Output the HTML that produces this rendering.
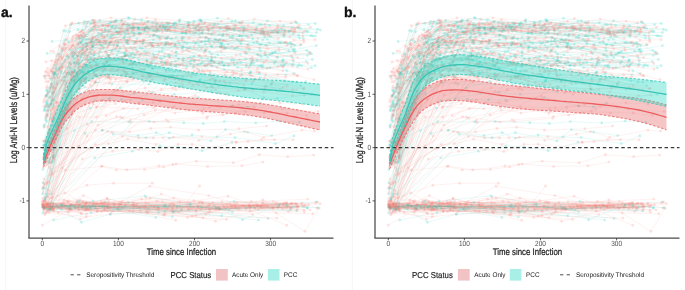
<!DOCTYPE html>
<html><head><meta charset="utf-8"><style>
html,body{margin:0;padding:0;background:#fff;width:685px;height:290px;overflow:hidden}
svg{display:block;font-family:"Liberation Sans",sans-serif;text-rendering:geometricPrecision}
.lp{fill:none;stroke:#F8766D;stroke-width:.6;stroke-opacity:.17}
.lc{fill:none;stroke:#10C8BA;stroke-width:.6;stroke-opacity:.17}
.dp{fill:none;stroke:#F8766D;stroke-width:2.9;stroke-linecap:round;stroke-opacity:.2}
.dc{fill:none;stroke:#10C8BA;stroke-width:2.9;stroke-linecap:round;stroke-opacity:.2}

.fp{fill:#E8686C;fill-opacity:.38;stroke:none}
.fc{fill:#2FD9C6;fill-opacity:.4;stroke:none}
.bp{fill:none;stroke:#E86A6A;stroke-width:1.1;stroke-dasharray:2.6 1.6;stroke-opacity:.8}
.bc{fill:none;stroke:#3CC8B8;stroke-width:1.1;stroke-dasharray:2.6 1.6;stroke-opacity:.8}
.mp{fill:none;stroke:#EC5E5E;stroke-width:1.3}
.mc{fill:none;stroke:#38C4B4;stroke-width:1.3}
.ax{stroke:#4a4a4a;stroke-width:1.25}
.tk{stroke:#333;stroke-width:.8}
.th{stroke:#3a3a3a;stroke-width:1.2;stroke-dasharray:3.5 2.68;stroke-dashoffset:.9}
.lg{stroke:#333;stroke-width:.9;stroke-dasharray:3.2 3.4}
.tl{font-size:6.5px;fill:#4d4d4d}
.at{font-size:7.85px;fill:#1a1a1a;stroke:#1a1a1a;stroke-width:.18px}
.pl{font-size:14px;font-weight:bold;fill:#111;stroke:#111;stroke-width:.35px}
.lt{font-size:6.4px;fill:#1a1a1a}
.ls{font-size:7.8px;fill:#1a1a1a;stroke:#1a1a1a;stroke-width:.15px}
</style></head><body>
<svg width="685" height="290" viewBox="0 0 685 290">
<line x1="5.7" y1="0" x2="5.7" y2="290" stroke="#f0f0f0" stroke-width="0.7"/><line x1="352.3" y1="0" x2="352.3" y2="290" stroke="#f0f0f0" stroke-width="0.7"/>
<defs><filter id="bl" x="-0.05" y="-0.05" width="1.1" height="1.1"><feGaussianBlur stdDeviation="0.75"/></filter><g id="sp">
<path class="lp" d="M52.7,157 60.3,121.4 73.8,80.3 95.2,53.1"/><path class="dp" d="M52.7,157h0M60.3,121.4h0M73.8,80.3h0M95.2,53.1h0"/>
<path class="lp" d="M50.9,70.8 95.8,75.5 132.7,79.3 161.5,76.2 182.3,81.1 198.5,84.9 215.1,80.9 246,80.8 271.4,84.8"/><path class="dp" d="M50.9,70.8h0M95.8,75.5h0M132.7,79.3h0M161.5,76.2h0M182.3,81.1h0M198.5,84.9h0M215.1,80.9h0M246,80.8h0M271.4,84.8h0"/>
<path class="lp" d="M52.2,197.5 78.9,146.5 102.2,130.3 130.4,120.3 144,114.7 180,109.1 202.9,113.2 220.7,107.4 238.5,104.6 279.9,102.7 302.3,104.1"/><path class="dp" d="M52.2,197.5h0M78.9,146.5h0M102.2,130.3h0M130.4,120.3h0M144,114.7h0M180,109.1h0M202.9,113.2h0M220.7,107.4h0M238.5,104.6h0M279.9,102.7h0M302.3,104.1h0"/>
<path class="lc" d="M44.7,146.4 81.5,72.2 104.4,68.9 135.9,65.1 169.7,70.4"/><path class="dc" d="M44.7,146.4h0M81.5,72.2h0M104.4,68.9h0M135.9,65.1h0M169.7,70.4h0"/>
<path class="lc" d="M52.1,41.5 65.2,40.1 80.2,42.6 91.2,41.9 110.4,42.5 123.7,38.2"/><path class="dc" d="M52.1,41.5h0M65.2,40.1h0M80.2,42.6h0M91.2,41.9h0M110.4,42.5h0M123.7,38.2h0"/>
<path class="lc" d="M53.7,220.1 91,212.7 118.4,209.2 148.1,208.8 164.8,211"/><path class="dc" d="M53.7,220.1h0M91,212.7h0M118.4,209.2h0M148.1,208.8h0M164.8,211h0"/>
<path class="lp" d="M47.6,126.7 65.5,66.8 75,54.5 89.3,53 109.4,44.3"/><path class="dp" d="M47.6,126.7h0M65.5,66.8h0M75,54.5h0M89.3,53h0M109.4,44.3h0"/>
<path class="lc" d="M45.3,162.7 146.7,60.1 161.3,61.9 186.9,66.2 224.6,65.3 251.5,61.6 282.1,61.8 301.5,65.8"/><path class="dc" d="M45.3,162.7h0M146.7,60.1h0M161.3,61.9h0M186.9,66.2h0M224.6,65.3h0M251.5,61.6h0M282.1,61.8h0M301.5,65.8h0"/>
<path class="lc" d="M49.5,97.7 85.2,34.9 119.2,28.4 134.2,33.1 176,37.2 201.9,32.4 219.4,34.1 242.2,36.6 264.7,37.3 303.4,38.2"/><path class="dc" d="M49.5,97.7h0M85.2,34.9h0M119.2,28.4h0M134.2,33.1h0M176,37.2h0M201.9,32.4h0M219.4,34.1h0M242.2,36.6h0M264.7,37.3h0M303.4,38.2h0"/>
<path class="lp" d="M42.6,198.7 93.2,104.3 124.9,101.1 153.2,102.9 174.4,106.9 209.3,107.6 232.6,105.9 254.2,106.9 282.3,109.1 318.2,111.5"/><path class="dp" d="M42.6,198.7h0M93.2,104.3h0M124.9,101.1h0M153.2,102.9h0M174.4,106.9h0M209.3,107.6h0M232.6,105.9h0M254.2,106.9h0M282.3,109.1h0M318.2,111.5h0"/>
<path class="lp" d="M52.3,130 57.6,105.5"/><path class="dp" d="M52.3,130h0M57.6,105.5h0"/>
<path class="lc" d="M42.6,206.2 79.7,38"/><path class="dc" d="M42.6,206.2h0M79.7,38h0"/>
<path class="lp" d="M46.6,208.8 98,125.1 116.6,116.7 130.9,122.4 168.3,121.5 206.8,118.3"/><path class="dp" d="M46.6,208.8h0M98,125.1h0M116.6,116.7h0M130.9,122.4h0M168.3,121.5h0M206.8,118.3h0"/>
<path class="lc" d="M43.5,145.1 91.6,121.7 128.8,121.9 149.2,121.4 183.8,122.7 203.3,123.5 224.3,121.6 255.7,122.9 279,121.1 299.5,122.2"/><path class="dc" d="M43.5,145.1h0M91.6,121.7h0M128.8,121.9h0M149.2,121.4h0M183.8,122.7h0M203.3,123.5h0M224.3,121.6h0M255.7,122.9h0M279,121.1h0M299.5,122.2h0"/>
<path class="lp" d="M46.1,111.5 86.1,46.7 113,37.8 149.8,35.9"/><path class="dp" d="M46.1,111.5h0M86.1,46.7h0M113,37.8h0M149.8,35.9h0"/>
<path class="lc" d="M52.8,74.4 73.7,52.2 86.7,45.4 117.3,45.8 142.4,48.6 183.3,47.2 217.9,54.8 240.5,54.6"/><path class="dc" d="M52.8,74.4h0M73.7,52.2h0M86.7,45.4h0M117.3,45.8h0M142.4,48.6h0M183.3,47.2h0M217.9,54.8h0M240.5,54.6h0"/>
<path class="lc" d="M46.4,103.2 88.3,70.8 126,60.6 148.5,65.2 174.6,71.4 202.3,62.5 224.2,69.6 250.4,72.8 284.9,80.8"/><path class="dc" d="M46.4,103.2h0M88.3,70.8h0M126,60.6h0M148.5,65.2h0M174.6,71.4h0M202.3,62.5h0M224.2,69.6h0M250.4,72.8h0M284.9,80.8h0"/>
<path class="lp" d="M43,205.8 75.2,207.3 91,206.7 155.1,206.2 209.5,209 279.1,205.5 296.9,204.6"/><path class="dp" d="M43,205.8h0M75.2,207.3h0M91,206.7h0M155.1,206.2h0M209.5,209h0M279.1,205.5h0M296.9,204.6h0"/>
<path class="lp" d="M43,188 94.6,82.5 127.1,81.3 146.5,78.4 179.2,79.8 202.2,70.5 241.7,70.3"/><path class="dp" d="M43,188h0M94.6,82.5h0M127.1,81.3h0M146.5,78.4h0M179.2,79.8h0M202.2,70.5h0M241.7,70.3h0"/>
<path class="lp" d="M47.7,140.6 53.5,108.6 72.6,52 93.1,38.4 101.5,30"/><path class="dp" d="M47.7,140.6h0M53.5,108.6h0M72.6,52h0M93.1,38.4h0M101.5,30h0"/>
<path class="lc" d="M45.4,105.7 82.4,30.1"/><path class="dc" d="M45.4,105.7h0M82.4,30.1h0"/>
<path class="lp" d="M48.5,132.3 62.9,103 85.1,79.6 102.4,75.4 141,69.3 157.8,73.1 198.7,71.2 236.3,73.1 259.4,72.5"/><path class="dp" d="M48.5,132.3h0M62.9,103h0M85.1,79.6h0M102.4,75.4h0M141,69.3h0M157.8,73.1h0M198.7,71.2h0M236.3,73.1h0M259.4,72.5h0"/>
<path class="lp" d="M51.6,70.7 83.2,32.8 95.2,25.3 107.8,25.4 133.4,27.9"/><path class="dp" d="M51.6,70.7h0M83.2,32.8h0M95.2,25.3h0M107.8,25.4h0M133.4,27.9h0"/>
<path class="lp" d="M46.8,204 80.8,205.2 114,204.5 153.5,206.7 215.5,221.2 258.4,209.5 308.4,204.6"/><path class="dp" d="M46.8,204h0M80.8,205.2h0M114,204.5h0M153.5,206.7h0M215.5,221.2h0M258.4,209.5h0M308.4,204.6h0"/>
<path class="lc" d="M48.9,130.7 88,60.3 106.9,62.8 125,55.8 146.9,52.2 182.2,48.7"/><path class="dc" d="M48.9,130.7h0M88,60.3h0M106.9,62.8h0M125,55.8h0M146.9,52.2h0M182.2,48.7h0"/>
<path class="lc" d="M52.8,157 69.3,67.2 93.6,42.2 106.1,42.4 143.2,42.2 184.1,42.1 205.5,44.3 240.5,42.8 259.5,48.2 291.4,46.7"/><path class="dc" d="M52.8,157h0M69.3,67.2h0M93.6,42.2h0M106.1,42.4h0M143.2,42.2h0M184.1,42.1h0M205.5,44.3h0M240.5,42.8h0M259.5,48.2h0M291.4,46.7h0"/>
<path class="lp" d="M50.2,207.2 62.1,203.7 78.8,204.6 107.3,198.9 137.2,205.1 173.9,204.2 223.5,206 286.6,207.8 320.2,203.8"/><path class="dp" d="M50.2,207.2h0M62.1,203.7h0M78.8,204.6h0M107.3,198.9h0M137.2,205.1h0M173.9,204.2h0M223.5,206h0M286.6,207.8h0M320.2,203.8h0"/>
<path class="lp" d="M52.6,86.8 62.6,67.2 84.4,51.7 99.9,43.3 111.7,39.3"/><path class="dp" d="M52.6,86.8h0M62.6,67.2h0M84.4,51.7h0M99.9,43.3h0M111.7,39.3h0"/>
<path class="lp" d="M43,206.8 78.5,210.4 92.4,205.1 158.2,207.3 192.1,216 249,205.7 290.8,208.1"/><path class="dp" d="M43,206.8h0M78.5,210.4h0M92.4,205.1h0M158.2,207.3h0M192.1,216h0M249,205.7h0M290.8,208.1h0"/>
<path class="lc" d="M44.7,76.6 71.9,71.9 103,70.9 116.7,70.6 148.8,73.5 171.7,76.7 199.4,81.5 229.8,82.9 266.4,86.1 305.9,81.7"/><path class="dc" d="M44.7,76.6h0M71.9,71.9h0M103,70.9h0M116.7,70.6h0M148.8,73.5h0M171.7,76.7h0M199.4,81.5h0M229.8,82.9h0M266.4,86.1h0M305.9,81.7h0"/>
<path class="lp" d="M43.6,207.3 80.2,83.1 95.6,74.9 123.1,62.4 150.9,63.4 177.5,64.3 212.5,61.3"/><path class="dp" d="M43.6,207.3h0M80.2,83.1h0M95.6,74.9h0M123.1,62.4h0M150.9,63.4h0M177.5,64.3h0M212.5,61.3h0"/>
<path class="lp" d="M45.4,160 74.2,77.1 94,59.2 124.8,56.4 149.2,52.7"/><path class="dp" d="M45.4,160h0M74.2,77.1h0M94,59.2h0M124.8,56.4h0M149.2,52.7h0"/>
<path class="lp" d="M50.6,97 65.5,71.6 85,52.4 100.5,49 117.6,46"/><path class="dp" d="M50.6,97h0M65.5,71.6h0M85,52.4h0M100.5,49h0M117.6,46h0"/>
<path class="lc" d="M50.1,209.5 85.1,133.3 102.4,130.3 138.1,135.5 156.2,132.7 169.5,138.1 192.1,135 217.2,137 235,137.6 275.5,143.6 294,135.7"/><path class="dc" d="M50.1,209.5h0M85.1,133.3h0M102.4,130.3h0M138.1,135.5h0M156.2,132.7h0M169.5,138.1h0M192.1,135h0M217.2,137h0M235,137.6h0M275.5,143.6h0M294,135.7h0"/>
<path class="lc" d="M54.4,73.5 94.1,26.6 129.2,18.2 152.6,22.4 183.6,27.1 200.6,21.3 235.1,25.8 269.6,25.8"/><path class="dc" d="M54.4,73.5h0M94.1,26.6h0M129.2,18.2h0M152.6,22.4h0M183.6,27.1h0M200.6,21.3h0M235.1,25.8h0M269.6,25.8h0"/>
<path class="lp" d="M52.5,152.8 70.9,91.3 85.1,58.8 113.4,44.3 139.1,34.5 170.5,31 189.2,38 222.9,34.6 264.6,35.2 278.4,38.4"/><path class="dp" d="M52.5,152.8h0M70.9,91.3h0M85.1,58.8h0M113.4,44.3h0M139.1,34.5h0M170.5,31h0M189.2,38h0M222.9,34.6h0M264.6,35.2h0M278.4,38.4h0"/>
<path class="lc" d="M45.3,108 69.4,63.4 87.4,44.2 117.6,45.2 151.7,43.1 167.2,37.7 187.5,48.1 223.9,46.1 265.5,55 295.5,51.4"/><path class="dc" d="M45.3,108h0M69.4,63.4h0M87.4,44.2h0M117.6,45.2h0M151.7,43.1h0M167.2,37.7h0M187.5,48.1h0M223.9,46.1h0M265.5,55h0M295.5,51.4h0"/>
<path class="lp" d="M47.6,110.4 72.1,38.9 98.4,26.4 139,24.3 154.7,30.6 195.5,28.3 227.1,26.3 262.8,28.4 293.5,32.2"/><path class="dp" d="M47.6,110.4h0M72.1,38.9h0M98.4,26.4h0M139,24.3h0M154.7,30.6h0M195.5,28.3h0M227.1,26.3h0M262.8,28.4h0M293.5,32.2h0"/>
<path class="lp" d="M44.9,203"/><path class="dp" d="M44.9,203h0"/>
<path class="lp" d="M53.3,73.8 70.7,73.8"/><path class="dp" d="M53.3,73.8h0M70.7,73.8h0"/>
<path class="lc" d="M50.8,104 87.6,39.4 116.2,26.4 138.1,27.8 157.3,29.9"/><path class="dc" d="M50.8,104h0M87.6,39.4h0M116.2,26.4h0M138.1,27.8h0M157.3,29.9h0"/>
<path class="lc" d="M49.8,206.5 61.8,204.9 81.7,207.4 105.9,202.6 132.6,204.8 189.8,203.5 257.8,205.8 316.5,201.9"/><path class="dc" d="M49.8,206.5h0M61.8,204.9h0M81.7,207.4h0M105.9,202.6h0M132.6,204.8h0M189.8,203.5h0M257.8,205.8h0M316.5,201.9h0"/>
<path class="lp" d="M48.8,76.1 72.1,22.9 102.6,25.2 126.8,29.3 148.5,21.4 168.3,29.5 186.3,32.2 210.8,24.5 227.1,28.9 263.8,31.6 304.8,30.9"/><path class="dp" d="M48.8,76.1h0M72.1,22.9h0M102.6,25.2h0M126.8,29.3h0M148.5,21.4h0M168.3,29.5h0M186.3,32.2h0M210.8,24.5h0M227.1,28.9h0M263.8,31.6h0M304.8,30.9h0"/>
<path class="lp" d="M48.6,190.4"/><path class="dp" d="M48.6,190.4h0"/>
<path class="lp" d="M53.2,209.4 101.5,166.4 116.2,169.9 144.5,169.4 163.7,167 176.1,164 207.6,166.5 241.9,165.8 262.9,162.1"/><path class="dp" d="M53.2,209.4h0M101.5,166.4h0M116.2,169.9h0M144.5,169.4h0M163.7,167h0M176.1,164h0M207.6,166.5h0M241.9,165.8h0M262.9,162.1h0"/>
<path class="lc" d="M46.4,121.4 56.5,74.6 76.2,38.1 96.9,30 108.5,31.2 134.3,35.1 173,25.4 186.2,33.7 226.4,31.2 252.7,38.7 270.5,36.4 311,35.7"/><path class="dc" d="M46.4,121.4h0M56.5,74.6h0M76.2,38.1h0M96.9,30h0M108.5,31.2h0M134.3,35.1h0M173,25.4h0M186.2,33.7h0M226.4,31.2h0M252.7,38.7h0M270.5,36.4h0M311,35.7h0"/>
<path class="lc" d="M46,115 72.6,56.4 104.9,28.8 117.5,31.2 138.5,28.4 168.2,29 181.7,32.9 200.3,29.4 225.8,26.5 264.1,33.7 289.3,30.9"/><path class="dc" d="M46,115h0M72.6,56.4h0M104.9,28.8h0M117.5,31.2h0M138.5,28.4h0M168.2,29h0M181.7,32.9h0M200.3,29.4h0M225.8,26.5h0M264.1,33.7h0M289.3,30.9h0"/>
<path class="lp" d="M44.3,127.5 77.8,43.7"/><path class="dp" d="M44.3,127.5h0M77.8,43.7h0"/>
<path class="lp" d="M43.2,192.4 79.7,67.1 98.8,53.8 116,48.1 130.5,47.3 161.8,62.1 187.2,50 199,55.5 232.2,58.4 251.4,62.5 286.6,62.5"/><path class="dp" d="M43.2,192.4h0M79.7,67.1h0M98.8,53.8h0M116,48.1h0M130.5,47.3h0M161.8,62.1h0M187.2,50h0M199,55.5h0M232.2,58.4h0M251.4,62.5h0M286.6,62.5h0"/>
<path class="lc" d="M48,92.2 70.1,50 92.2,45.8 126.6,42.4 153.4,39.9 175.1,44.6 211.6,46.7 234.7,48.6 271.8,53.4 307,50.4"/><path class="dc" d="M48,92.2h0M70.1,50h0M92.2,45.8h0M126.6,42.4h0M153.4,39.9h0M175.1,44.6h0M211.6,46.7h0M234.7,48.6h0M271.8,53.4h0M307,50.4h0"/>
<path class="lp" d="M44,145 65.3,90.9 95.4,65.6 123.6,64 150.6,62.1"/><path class="dp" d="M44,145h0M65.3,90.9h0M95.4,65.6h0M123.6,64h0M150.6,62.1h0"/>
<path class="lp" d="M47.4,116.1 57.1,83.7 75.8,62.9"/><path class="dp" d="M47.4,116.1h0M57.1,83.7h0M75.8,62.9h0"/>
<path class="lp" d="M49,134.2 57,102.6 80.6,81.6 106.4,77.3 131.2,76.7 171.8,76.5 189.4,82.4 225.6,83.5 258.9,79.2 297.7,75.7"/><path class="dp" d="M49,134.2h0M57,102.6h0M80.6,81.6h0M106.4,77.3h0M131.2,76.7h0M171.8,76.5h0M189.4,82.4h0M225.6,83.5h0M258.9,79.2h0M297.7,75.7h0"/>
<path class="lc" d="M47.7,136.2 88.5,71.3 123.1,58.3 149.5,65.2 190.2,63.8 222.1,62.8 262.5,67.3 299.1,64.7 315.2,65.7"/><path class="dc" d="M47.7,136.2h0M88.5,71.3h0M123.1,58.3h0M149.5,65.2h0M190.2,63.8h0M222.1,62.8h0M262.5,67.3h0M299.1,64.7h0M315.2,65.7h0"/>
<path class="lp" d="M46.2,203.5 77.9,207.1 103.3,203.5 133.1,202.5 198.9,202.9 268.1,205.9 297.6,206.2"/><path class="dp" d="M46.2,203.5h0M77.9,207.1h0M103.3,203.5h0M133.1,202.5h0M198.9,202.9h0M268.1,205.9h0M297.6,206.2h0"/>
<path class="lp" d="M43.9,206.7 79.1,208.5 108.4,203.8 181.6,210.1 219.5,208.8 261.2,206.3 303.9,210.2"/><path class="dp" d="M43.9,206.7h0M79.1,208.5h0M108.4,203.8h0M181.6,210.1h0M219.5,208.8h0M261.2,206.3h0M303.9,210.2h0"/>
<path class="lp" d="M53.1,210.1 65.4,170 95.5,130.1 122.7,118.1 155.2,110.3 186.5,109.4 222.7,115.1 250.3,109"/><path class="dp" d="M53.1,210.1h0M65.4,170h0M95.5,130.1h0M122.7,118.1h0M155.2,110.3h0M186.5,109.4h0M222.7,115.1h0M250.3,109h0"/>
<path class="lp" d="M54.4,131.4 70.7,91.4 103.5,64.1"/><path class="dp" d="M54.4,131.4h0M70.7,91.4h0M103.5,64.1h0"/>
<path class="lc" d="M51.6,84.3 95.8,62.5 127.6,55.6 146.9,61.1 175.9,66.6 200.7,63.9 219.2,63.2 240.8,62.2 259.2,65.9 287,71"/><path class="dc" d="M51.6,84.3h0M95.8,62.5h0M127.6,55.6h0M146.9,61.1h0M175.9,66.6h0M200.7,63.9h0M219.2,63.2h0M240.8,62.2h0M259.2,65.9h0M287,71h0"/>
<path class="lp" d="M48.2,212.9 86.1,216.9 110.2,214.1 146.8,212 179,212 199.6,186"/><path class="dp" d="M48.2,212.9h0M86.1,216.9h0M110.2,214.1h0M146.8,212h0M179,212h0M199.6,186h0"/>
<path class="lp" d="M53.5,108.9 66.6,73.8 82.4,49.9 115,41.2 143.2,40.3 160.1,39"/><path class="dp" d="M53.5,108.9h0M66.6,73.8h0M82.4,49.9h0M115,41.2h0M143.2,40.3h0M160.1,39h0"/>
<path class="lc" d="M46.9,196.8 113.4,134.2 146,137.7 169.3,132.7 210.9,140.9 225.5,129.6 247.6,132.1 271.8,135.6"/><path class="dc" d="M46.9,196.8h0M113.4,134.2h0M146,137.7h0M169.3,132.7h0M210.9,140.9h0M225.5,129.6h0M247.6,132.1h0M271.8,135.6h0"/>
<path class="lp" d="M50.3,118.7 65,50 77.5,35.5 93.2,30.7 133.4,28.4 169.6,22.8 198.4,25.4 228.5,34.6 262.6,31.9 284.8,32.7"/><path class="dp" d="M50.3,118.7h0M65,50h0M77.5,35.5h0M93.2,30.7h0M133.4,28.4h0M169.6,22.8h0M198.4,25.4h0M228.5,34.6h0M262.6,31.9h0M284.8,32.7h0"/>
<path class="lp" d="M46.3,203.9 63.6,203.9 100.9,203.7 146.1,197.5 202.2,202.5 262.4,203.2 290.8,204.1"/><path class="dp" d="M46.3,203.9h0M63.6,203.9h0M100.9,203.7h0M146.1,197.5h0M202.2,202.5h0M262.4,203.2h0M290.8,204.1h0"/>
<path class="lc" d="M45.9,117.2 74.4,58.6 103.9,64.2 116.2,60.6 138.7,59.9 164.5,56.9 193.9,60 209.6,62.6 237.6,67.4 270.1,67.7"/><path class="dc" d="M45.9,117.2h0M74.4,58.6h0M103.9,64.2h0M116.2,60.6h0M138.7,59.9h0M164.5,56.9h0M193.9,60h0M209.6,62.6h0M237.6,67.4h0M270.1,67.7h0"/>
<path class="lp" d="M53.3,158.1 90.3,84.9 109.6,78.1 142.3,75.7 165.2,79.6 186.5,73.1 212.7,78.5 240.3,76 272.9,82 303.7,88.6"/><path class="dp" d="M53.3,158.1h0M90.3,84.9h0M109.6,78.1h0M142.3,75.7h0M165.2,79.6h0M186.5,73.1h0M212.7,78.5h0M240.3,76h0M272.9,82h0M303.7,88.6h0"/>
<path class="lp" d="M49.1,209.3 71.4,209.7 101.5,211.8 149.2,210.7 188.5,209.9 203,207.8"/><path class="dp" d="M49.1,209.3h0M71.4,209.7h0M101.5,211.8h0M149.2,210.7h0M188.5,209.9h0M203,207.8h0"/>
<path class="lc" d="M42.9,169.6 109.3,99 121.5,99.2 142.5,99.7 159.5,99.9 198.3,97.4 232.6,106.1 247.4,107.1 260.5,103"/><path class="dc" d="M42.9,169.6h0M109.3,99h0M121.5,99.2h0M142.5,99.7h0M159.5,99.9h0M198.3,97.4h0M232.6,106.1h0M247.4,107.1h0M260.5,103h0"/>
<path class="lc" d="M43,206.7 68.5,72.9 101.7,46 130.8,55.7 161.9,51.2 183.1,60.7 211.9,60.3 246.3,66.3 275.6,61.6 311.5,67.8"/><path class="dc" d="M43,206.7h0M68.5,72.9h0M101.7,46h0M130.8,55.7h0M161.9,51.2h0M183.1,60.7h0M211.9,60.3h0M246.3,66.3h0M275.6,61.6h0M311.5,67.8h0"/>
<path class="lp" d="M52,206.9 80.8,212.6 101.3,201.8 158,209.6 200.7,209.3 250.1,211.2 284.4,202.9"/><path class="dp" d="M52,206.9h0M80.8,212.6h0M101.3,201.8h0M158,209.6h0M200.7,209.3h0M250.1,211.2h0M284.4,202.9h0"/>
<path class="lp" d="M43.8,101.9 77,75.2 108.5,78 126,74.2 141.2,71.7 177.3,76.5 196.7,82.8 210.1,79.6 224.3,81.2 255.4,79 283.1,87.4 304,88.5"/><path class="dp" d="M43.8,101.9h0M77,75.2h0M108.5,78h0M126,74.2h0M141.2,71.7h0M177.3,76.5h0M196.7,82.8h0M210.1,79.6h0M224.3,81.2h0M255.4,79h0M283.1,87.4h0M304,88.5h0"/>
<path class="lc" d="M53.2,144.7 82.7,40.9 108.7,31.9 138.6,28.9 153,35.3 184.5,33.2 215.2,39.6 251.7,35"/><path class="dc" d="M53.2,144.7h0M82.7,40.9h0M108.7,31.9h0M138.6,28.9h0M153,35.3h0M184.5,33.2h0M215.2,39.6h0M251.7,35h0"/>
<path class="lp" d="M46.4,72.3 56.6,55.9 72.7,44.7 99.2,29.8 128.6,27.6 148.5,28.6 188.4,30.7 212.3,33.6 241.9,39.8"/><path class="dp" d="M46.4,72.3h0M56.6,55.9h0M72.7,44.7h0M99.2,29.8h0M128.6,27.6h0M148.5,28.6h0M188.4,30.7h0M212.3,33.6h0M241.9,39.8h0"/>
<path class="lc" d="M52.5,161.5 64.1,80.8 93.9,72.5 121.6,58.2 146.4,65.3 165.9,69.7 193.8,74.1 212,66.1 249.5,73.6 286,74.9"/><path class="dc" d="M52.5,161.5h0M64.1,80.8h0M93.9,72.5h0M121.6,58.2h0M146.4,65.3h0M165.9,69.7h0M193.8,74.1h0M212,66.1h0M249.5,73.6h0M286,74.9h0"/>
<path class="lp" d="M42.4,207.6 71.1,204.4 85,204.7 103.8,205.7 136,204 161.3,194.1 209.4,208.9 243.1,205.7 291.6,203.3"/><path class="dp" d="M42.4,207.6h0M71.1,204.4h0M85,204.7h0M103.8,205.7h0M136,204h0M161.3,194.1h0M209.4,208.9h0M243.1,205.7h0M291.6,203.3h0"/>
<path class="lp" d="M48.2,151.3 89.7,43.1 112.5,33.4 145.3,23.7 157.5,23.2 190.1,31.4 208.4,29.1 233.6,25 265.5,27 282.1,28.7 297.9,27.6"/><path class="dp" d="M48.2,151.3h0M89.7,43.1h0M112.5,33.4h0M145.3,23.7h0M157.5,23.2h0M190.1,31.4h0M208.4,29.1h0M233.6,25h0M265.5,27h0M282.1,28.7h0M297.9,27.6h0"/>
<path class="lc" d="M49.3,107.1 61.1,72.3 74,62.4 107.1,54.5 129.1,56.9 169.3,68.2 191,60.9 221.9,61.7 253.4,63.3 267.6,57.4 281.1,65.1"/><path class="dc" d="M49.3,107.1h0M61.1,72.3h0M74,62.4h0M107.1,54.5h0M129.1,56.9h0M169.3,68.2h0M191,60.9h0M221.9,61.7h0M253.4,63.3h0M267.6,57.4h0M281.1,65.1h0"/>
<path class="lp" d="M48.3,203.8 68.1,202.2 88.3,210 141.5,199.2 171.9,203.5 219,207.1 249.1,205.3 296.1,206.9 317.7,202.1"/><path class="dp" d="M48.3,203.8h0M68.1,202.2h0M88.3,210h0M141.5,199.2h0M171.9,203.5h0M219,207.1h0M249.1,205.3h0M296.1,206.9h0M317.7,202.1h0"/>
<path class="lp" d="M45.6,213.5 95.3,144.6 108.4,143.7 127.6,139.1 156,144.4 173.2,137.1 198.8,140.4 230.5,134.1 244.5,131.6 263.7,137.4 301.9,130.1 314.5,131"/><path class="dp" d="M45.6,213.5h0M95.3,144.6h0M108.4,143.7h0M127.6,139.1h0M156,144.4h0M173.2,137.1h0M198.8,140.4h0M230.5,134.1h0M244.5,131.6h0M263.7,137.4h0M301.9,130.1h0M314.5,131h0"/>
<path class="lp" d="M47.2,106.7 53.2,78.2 59.9,56.8 69.2,48.1 80.5,41.9 95.5,37.7 108.2,46 115.1,36.7 123.6,45.9 130,39.1 136.8,43.1"/><path class="dp" d="M47.2,106.7h0M53.2,78.2h0M59.9,56.8h0M69.2,48.1h0M80.5,41.9h0M95.5,37.7h0M108.2,46h0M115.1,36.7h0M123.6,45.9h0M130,39.1h0M136.8,43.1h0"/>
<path class="lc" d="M43.9,145.8 65.4,84.2 91.1,60.1 118.3,51.2 135,55.3 169.5,56.3 205.1,50.9"/><path class="dc" d="M43.9,145.8h0M65.4,84.2h0M91.1,60.1h0M118.3,51.2h0M135,55.3h0M169.5,56.3h0M205.1,50.9h0"/>
<path class="lp" d="M45.3,140.3 74.8,47.2 103.7,35.9 119.6,32.2 160.3,37.5 182.2,37.5 223.9,31.3 258.2,38.3"/><path class="dp" d="M45.3,140.3h0M74.8,47.2h0M103.7,35.9h0M119.6,32.2h0M160.3,37.5h0M182.2,37.5h0M223.9,31.3h0M258.2,38.3h0"/>
<path class="lp" d="M42.4,204 70.4,73.8 94.4,51.7"/><path class="dp" d="M42.4,204h0M70.4,73.8h0M94.4,51.7h0"/>
<path class="lp" d="M50,88.1 91.2,52.5 125.6,48.6 151.8,45.4 168.7,44.5 201.3,48.3 238,46.6 278.7,48.5 294.8,53 309.7,54"/><path class="dp" d="M50,88.1h0M91.2,52.5h0M125.6,48.6h0M151.8,45.4h0M168.7,44.5h0M201.3,48.3h0M238,46.6h0M278.7,48.5h0M294.8,53h0M309.7,54h0"/>
<path class="lc" d="M44.8,160.6 72.4,72.4 84.6,64.6 105.2,65.6 134.2,61.4 153.3,68.5 175.4,61.4 205.3,65.8 234.7,65.1 250.8,71.8 283.7,65.2 297.6,66.8"/><path class="dc" d="M44.8,160.6h0M72.4,72.4h0M84.6,64.6h0M105.2,65.6h0M134.2,61.4h0M153.3,68.5h0M175.4,61.4h0M205.3,65.8h0M234.7,65.1h0M250.8,71.8h0M283.7,65.2h0M297.6,66.8h0"/>
<path class="lc" d="M46.8,156 66.4,104.3 85.2,78.7 113.1,69.1 124.7,69.2"/><path class="dc" d="M46.8,156h0M66.4,104.3h0M85.2,78.7h0M113.1,69.1h0M124.7,69.2h0"/>
<path class="lc" d="M46.4,149.9 84.5,21.4 111.6,26.3 129.4,25.4 149,28.7 189,23.7 208.6,30.8 241.4,27.4 256.7,27.5 293,34.1 308,31.5"/><path class="dc" d="M46.4,149.9h0M84.5,21.4h0M111.6,26.3h0M129.4,25.4h0M149,28.7h0M189,23.7h0M208.6,30.8h0M241.4,27.4h0M256.7,27.5h0M293,34.1h0M308,31.5h0"/>
<path class="lp" d="M48.3,81.7 58.9,70 71.9,53.7 80,52.5"/><path class="dp" d="M48.3,81.7h0M58.9,70h0M71.9,53.7h0M80,52.5h0"/>
<path class="lp" d="M52.2,206.8 70.2,208.6 94,203.8 133.5,204.7 200.2,201.9 231.5,207.9 256.1,204.3 301.8,204.2"/><path class="dp" d="M52.2,206.8h0M70.2,208.6h0M94,203.8h0M133.5,204.7h0M200.2,201.9h0M231.5,207.9h0M256.1,204.3h0M301.8,204.2h0"/>
<path class="lp" d="M50.7,145.6 89.6,38.6 123.2,24.1 157.4,29.3 190,32.6 226.7,34.8 247.2,45.1 279.1,50.5 301.2,44.6"/><path class="dp" d="M50.7,145.6h0M89.6,38.6h0M123.2,24.1h0M157.4,29.3h0M190,32.6h0M226.7,34.8h0M247.2,45.1h0M279.1,50.5h0M301.2,44.6h0"/>
<path class="lc" d="M44.7,200.1 70.4,108.6 86,77.9 116.9,55.1 142.9,43.9 165.6,42.2 179,43.4 198.9,45.4 228.3,44.3 248.3,44.2 261.1,44.6 290.1,42.8 309.3,52.1"/><path class="dc" d="M44.7,200.1h0M70.4,108.6h0M86,77.9h0M116.9,55.1h0M142.9,43.9h0M165.6,42.2h0M179,43.4h0M198.9,45.4h0M228.3,44.3h0M248.3,44.2h0M261.1,44.6h0M290.1,42.8h0M309.3,52.1h0"/>
<path class="lc" d="M54,148.3 83.3,72.6 110.1,59.3 126.1,55.3 153.7,60.8 171.2,62.1 193.7,56.1 215,57.3 251.2,63.7 269.8,54.6 293.4,61.1"/><path class="dc" d="M54,148.3h0M83.3,72.6h0M110.1,59.3h0M126.1,55.3h0M153.7,60.8h0M171.2,62.1h0M193.7,56.1h0M215,57.3h0M251.2,63.7h0M269.8,54.6h0M293.4,61.1h0"/>
<path class="lc" d="M48.7,142.3 86.7,49.2 118.3,33.4 144.9,28.8 182.3,33.1 202.6,30 240.2,35.7 281.2,28.8 313,36"/><path class="dc" d="M48.7,142.3h0M86.7,49.2h0M118.3,33.4h0M144.9,28.8h0M182.3,33.1h0M202.6,30h0M240.2,35.7h0M281.2,28.8h0M313,36h0"/>
<path class="lc" d="M51.8,162.5 86.7,66.1 106.4,62.1 133.3,57.6 160.4,58.3 194.2,61.6"/><path class="dc" d="M51.8,162.5h0M86.7,66.1h0M106.4,62.1h0M133.3,57.6h0M160.4,58.3h0M194.2,61.6h0"/>
<path class="lp" d="M46.1,211.9 65.3,205.7 84.8,210.5 104.5,201.5 137.5,207.8 191.4,208.3 219.2,208.9 255.2,208.1 287.2,206"/><path class="dp" d="M46.1,211.9h0M65.3,205.7h0M84.8,210.5h0M104.5,201.5h0M137.5,207.8h0M191.4,208.3h0M219.2,208.9h0M255.2,208.1h0M287.2,206h0"/>
<path class="lp" d="M50.7,207.2 60.6,109 80.8,50.5 106.3,41.1 143.9,40.5"/><path class="dp" d="M50.7,207.2h0M60.6,109h0M80.8,50.5h0M106.3,41.1h0M143.9,40.5h0"/>
<path class="lp" d="M48.1,210.5 68,212.2 86.5,214.1 114.9,206.8 147.6,212.7 218.9,209.8 276.3,213 312.9,213.8"/><path class="dp" d="M48.1,210.5h0M68,212.2h0M86.5,214.1h0M114.9,206.8h0M147.6,212.7h0M218.9,209.8h0M276.3,213h0M312.9,213.8h0"/>
<path class="lp" d="M51,169.6 232.6,74.8 257,71.9 297.1,75.6 314,79.7"/><path class="dp" d="M51,169.6h0M232.6,74.8h0M257,71.9h0M297.1,75.6h0M314,79.7h0"/>
<path class="lp" d="M50.1,208.9"/><path class="dp" d="M50.1,208.9h0"/>
<path class="lc" d="M52.5,93.6 64.4,76.8 96.7,64.4 132.5,67.8 170.7,65 198,64.7 237.3,63 250.1,65.2 262.5,65.2 274.5,63.3 293.6,73.6"/><path class="dc" d="M52.5,93.6h0M64.4,76.8h0M96.7,64.4h0M132.5,67.8h0M170.7,65h0M198,64.7h0M237.3,63h0M250.1,65.2h0M262.5,65.2h0M274.5,63.3h0M293.6,73.6h0"/>
<path class="lc" d="M45.9,95.6 82.2,48.6 95.9,39.9 124.7,32.4 154.2,35.1 195.2,43.6 215.7,39.4 241.1,44.1 281,42.7"/><path class="dc" d="M45.9,95.6h0M82.2,48.6h0M95.9,39.9h0M124.7,32.4h0M154.2,35.1h0M195.2,43.6h0M215.7,39.4h0M241.1,44.1h0M281,42.7h0"/>
<path class="lp" d="M48.8,72.9 64.1,48.3 79.5,38.5 111.3,42.3 127.6,42.9"/><path class="dp" d="M48.8,72.9h0M64.1,48.3h0M79.5,38.5h0M111.3,42.3h0M127.6,42.9h0"/>
<path class="lp" d="M47.2,183 115.7,79.2 136.7,72.8 169.2,77.8 206.8,87.6 245.1,88.9 265.3,88.4 292.9,89.8"/><path class="dp" d="M47.2,183h0M115.7,79.2h0M136.7,72.8h0M169.2,77.8h0M206.8,87.6h0M245.1,88.9h0M265.3,88.4h0M292.9,89.8h0"/>
<path class="lp" d="M49.5,105.4 77.5,74.3 91.5,65.9"/><path class="dp" d="M49.5,105.4h0M77.5,74.3h0M91.5,65.9h0"/>
<path class="lp" d="M47.3,202.9 70.4,205.1 101.8,203.3 145.6,202.8 169.9,204.8"/><path class="dp" d="M47.3,202.9h0M70.4,205.1h0M101.8,203.3h0M145.6,202.8h0M169.9,204.8h0"/>
<path class="lc" d="M46.9,194.3 85.3,39.2 118.2,41.6 134.8,42.4 158.7,37.8 186.8,43.2 220,42.3 260,55.6 293.8,50.9"/><path class="dc" d="M46.9,194.3h0M85.3,39.2h0M118.2,41.6h0M134.8,42.4h0M158.7,37.8h0M186.8,43.2h0M220,42.3h0M260,55.6h0M293.8,50.9h0"/>
<path class="lp" d="M49.2,167.4 120.8,34.5 136.1,41.5 167.4,43.7 182.2,40.5 217.8,41.5"/><path class="dp" d="M49.2,167.4h0M120.8,34.5h0M136.1,41.5h0M167.4,43.7h0M182.2,40.5h0M217.8,41.5h0"/>
<path class="lp" d="M46.4,138.9 87.3,50.1 103.4,47.1"/><path class="dp" d="M46.4,138.9h0M87.3,50.1h0M103.4,47.1h0"/>
<path class="lp" d="M49.8,211.9 86,209.9 111.8,211.7 159.1,209.2 210,211.5 254.7,208"/><path class="dp" d="M49.8,211.9h0M86,209.9h0M111.8,211.7h0M159.1,209.2h0M210,211.5h0M254.7,208h0"/>
<path class="lp" d="M42.7,204.8 56.3,204.6 89.7,202.6 125.6,204.5 198.4,206.3 253.6,205.2 292.2,203.4"/><path class="dp" d="M42.7,204.8h0M56.3,204.6h0M89.7,202.6h0M125.6,204.5h0M198.4,206.3h0M253.6,205.2h0M292.2,203.4h0"/>
<path class="lp" d="M51.3,172.2 102.1,166.1 126.8,169.9 159,166 172.8,164.5 196.3,161.2 233.4,162.8 259.4,154.8 287.7,156.7 313.7,155.1"/><path class="dp" d="M51.3,172.2h0M102.1,166.1h0M126.8,169.9h0M159,166h0M172.8,164.5h0M196.3,161.2h0M233.4,162.8h0M259.4,154.8h0M287.7,156.7h0M313.7,155.1h0"/>
<path class="lp" d="M43.3,167.3 55.6,107.1 86.1,77.3 101.3,68.7 127.6,74.3 152.4,74.3 191.3,76.9 219.7,81 244,85.2"/><path class="dp" d="M43.3,167.3h0M55.6,107.1h0M86.1,77.3h0M101.3,68.7h0M127.6,74.3h0M152.4,74.3h0M191.3,76.9h0M219.7,81h0M244,85.2h0"/>
<path class="lc" d="M53.5,106.1 87.7,21.9 115.1,22.1 156.3,24.3 187.7,26.5 202.4,23.9 229.2,28.4 268.7,35 284,36.4"/><path class="dc" d="M53.5,106.1h0M87.7,21.9h0M115.1,22.1h0M156.3,24.3h0M187.7,26.5h0M202.4,23.9h0M229.2,28.4h0M268.7,35h0M284,36.4h0"/>
<path class="lc" d="M52.3,118.7 71.5,81 89.2,72.3 108.4,65.6 133.4,64.1"/><path class="dc" d="M52.3,118.7h0M71.5,81h0M89.2,72.3h0M108.4,65.6h0M133.4,64.1h0"/>
<path class="lc" d="M43,182.7 88.7,59.2 115.1,58.6 129.6,64.8 164.7,63 193.2,67.4 211.8,57.7 252.5,60.3 284.7,64 306.3,61.5"/><path class="dc" d="M43,182.7h0M88.7,59.2h0M115.1,58.6h0M129.6,64.8h0M164.7,63h0M193.2,67.4h0M211.8,57.7h0M252.5,60.3h0M284.7,64h0M306.3,61.5h0"/>
<path class="lp" d="M43.4,157.2 56.2,102.5 70.7,64.7 91.4,43.7 128.2,34.4 141.9,29.7 166.4,27.3 188.6,25.7 227.2,27.9 243.3,30.5 274.7,30.3 290.9,30.8"/><path class="dp" d="M43.4,157.2h0M56.2,102.5h0M70.7,64.7h0M91.4,43.7h0M128.2,34.4h0M141.9,29.7h0M166.4,27.3h0M188.6,25.7h0M227.2,27.9h0M243.3,30.5h0M274.7,30.3h0M290.9,30.8h0"/>
<path class="lp" d="M48,206.3 84.2,206 97.6,208.7 121,204.6 164.8,206.2 215.7,207.5 264.1,205.5 304.9,231.4 319.1,208.2"/><path class="dp" d="M48,206.3h0M84.2,206h0M97.6,208.7h0M121,204.6h0M164.8,206.2h0M215.7,207.5h0M264.1,205.5h0M304.9,231.4h0M319.1,208.2h0"/>
<path class="lp" d="M53.4,209.1 86,205.9 107,198.3 139.8,207.4 193.5,207.3"/><path class="dp" d="M53.4,209.1h0M86,205.9h0M107,198.3h0M139.8,207.4h0M193.5,207.3h0"/>
<path class="lc" d="M54.7,65.2 73.1,56.4"/><path class="dc" d="M54.7,65.2h0M73.1,56.4h0"/>
<path class="lp" d="M52.2,120.2 66.5,97.1 78.8,89.1 109.6,83 150.8,76"/><path class="dp" d="M52.2,120.2h0M66.5,97.1h0M78.8,89.1h0M109.6,83h0M150.8,76h0"/>
<path class="lp" d="M42.3,225.2 70.7,208.9 97.3,211.5 140.4,211.3 187.7,217.5 235.9,205.4 303.3,206.6"/><path class="dp" d="M42.3,225.2h0M70.7,208.9h0M97.3,211.5h0M140.4,211.3h0M187.7,217.5h0M235.9,205.4h0M303.3,206.6h0"/>
<path class="lp" d="M50.1,160.1 75.1,80.2 87.3,60.4 112.5,53.9 125.9,50.5 153.7,57.1 169.7,54.2 207.2,48.4"/><path class="dp" d="M50.1,160.1h0M75.1,80.2h0M87.3,60.4h0M112.5,53.9h0M125.9,50.5h0M153.7,57.1h0M169.7,54.2h0M207.2,48.4h0"/>
<path class="lp" d="M49.3,142.2 96.1,107.4 115.5,103.7"/><path class="dp" d="M49.3,142.2h0M96.1,107.4h0M115.5,103.7h0"/>
<path class="lc" d="M71.1,205.3 102.1,206.6 158.5,212.6 221.8,215.8"/><path class="dc" d="M71.1,205.3h0M102.1,206.6h0M158.5,212.6h0M221.8,215.8h0"/>
<path class="lc" d="M46.9,151.3 88.2,67.2 110,64.7 144.2,69.4 182.8,76.8 202.8,74.2 214.4,74.9 241.8,74.8 260.4,77.8 296.9,82"/><path class="dc" d="M46.9,151.3h0M88.2,67.2h0M110,64.7h0M144.2,69.4h0M182.8,76.8h0M202.8,74.2h0M214.4,74.9h0M241.8,74.8h0M260.4,77.8h0M296.9,82h0"/>
<path class="lp" d="M46,81.7 78.2,36.3 94.7,28.9 117.6,32.6 133.4,22.5"/><path class="dp" d="M46,81.7h0M78.2,36.3h0M94.7,28.9h0M117.6,32.6h0M133.4,22.5h0"/>
<path class="lc" d="M48.8,162.3 93,43.6 132.3,27.8 146.8,26.2 175,28 195.9,28.5 213.8,25.3 233.6,28.8 246.6,36.1 279,29.7"/><path class="dc" d="M48.8,162.3h0M93,43.6h0M132.3,27.8h0M146.8,26.2h0M175,28h0M195.9,28.5h0M213.8,25.3h0M233.6,28.8h0M246.6,36.1h0M279,29.7h0"/>
<path class="lp" d="M46.5,204.9 152.4,25.8 169.9,27.5 199.4,24.3 240,31.4 277.8,25.7 294.5,28.9"/><path class="dp" d="M46.5,204.9h0M152.4,25.8h0M169.9,27.5h0M199.4,24.3h0M240,31.4h0M277.8,25.7h0M294.5,28.9h0"/>
<path class="lc" d="M79.1,201 116.6,208.7 181.5,209 268.1,218.5"/><path class="dc" d="M79.1,201h0M116.6,208.7h0M181.5,209h0M268.1,218.5h0"/>
<path class="lp" d="M47.3,68.6 61.9,59.5 86,57.2"/><path class="dp" d="M47.3,68.6h0M61.9,59.5h0M86,57.2h0"/>
<path class="lp" d="M48.3,203.3"/><path class="dp" d="M48.3,203.3h0"/>
<path class="lp" d="M46.5,205.6 68.3,208.4 85.1,208.4 97.2,211.1 167.2,209.3 208.3,212.6 231.7,205.7 284.9,205.4"/><path class="dp" d="M46.5,205.6h0M68.3,208.4h0M85.1,208.4h0M97.2,211.1h0M167.2,209.3h0M208.3,212.6h0M231.7,205.7h0M284.9,205.4h0"/>
<path class="lp" d="M47.5,94 86.5,23.5 112.8,22.4 133,25.1 163.4,26.9 201.5,21.5 216.2,24.8 242.2,21.5 254.3,19.1 291.4,23"/><path class="dp" d="M47.5,94h0M86.5,23.5h0M112.8,22.4h0M133,25.1h0M163.4,26.9h0M201.5,21.5h0M216.2,24.8h0M242.2,21.5h0M254.3,19.1h0M291.4,23h0"/>
<path class="lc" d="M44.8,188.1 220.4,28.5 261.3,33.5 300.6,28.6 320.3,30.1"/><path class="dc" d="M44.8,188.1h0M220.4,28.5h0M261.3,33.5h0M300.6,28.6h0M320.3,30.1h0"/>
<path class="lc" d="M51.4,194.3 85.4,65.1 107.9,57.2 124.9,56.1"/><path class="dc" d="M51.4,194.3h0M85.4,65.1h0M107.9,57.2h0M124.9,56.1h0"/>
<path class="lp" d="M48.7,193.6"/><path class="dp" d="M48.7,193.6h0"/>
<path class="lp" d="M46,206.8 85.2,104.8 103,100.5 130.3,100 161.2,89.5 182.1,86.6 218.6,92.8 252.8,89.6 287.1,86"/><path class="dp" d="M46,206.8h0M85.2,104.8h0M103,100.5h0M130.3,100h0M161.2,89.5h0M182.1,86.6h0M218.6,92.8h0M252.8,89.6h0M287.1,86h0"/>
<path class="lc" d="M53.3,68.4 71.1,75 92.8,70.4 132.9,72.5 173.1,75.4 195.9,75.8 235.9,78.5"/><path class="dc" d="M53.3,68.4h0M71.1,75h0M92.8,70.4h0M132.9,72.5h0M173.1,75.4h0M195.9,75.8h0M235.9,78.5h0"/>
<path class="lc" d="M50.4,206.3 74.4,130.6 90.3,108.1 120.2,87.7 143.7,81.4 179.6,86.2 211.3,86.7 244.7,88.8 263.8,97.6 277.1,98.4 311.5,94.5"/><path class="dc" d="M50.4,206.3h0M74.4,130.6h0M90.3,108.1h0M120.2,87.7h0M143.7,81.4h0M179.6,86.2h0M211.3,86.7h0M244.7,88.8h0M263.8,97.6h0M277.1,98.4h0M311.5,94.5h0"/>
<path class="lc" d="M45.9,154.6 55.3,73.3 82.1,36.9 100.9,35.3 126.3,40.7 166.1,43.4 196.6,42.5 232.7,38.3 267.3,39.1 288.2,43.7"/><path class="dc" d="M45.9,154.6h0M55.3,73.3h0M82.1,36.9h0M100.9,35.3h0M126.3,40.7h0M166.1,43.4h0M196.6,42.5h0M232.7,38.3h0M267.3,39.1h0M288.2,43.7h0"/>
<path class="lp" d="M63.6,202.5 107.2,210.8 165.1,213.5 203.1,217.8"/><path class="dp" d="M63.6,202.5h0M107.2,210.8h0M165.1,213.5h0M203.1,217.8h0"/>
<path class="lc" d="M45.6,119.9 78.3,63.3"/><path class="dc" d="M45.6,119.9h0M78.3,63.3h0"/>
<path class="lp" d="M45.5,207 72,112 95.1,81.5 119,67.9 152,59.6 188.2,58.4 219.3,63"/><path class="dp" d="M45.5,207h0M72,112h0M95.1,81.5h0M119,67.9h0M152,59.6h0M188.2,58.4h0M219.3,63h0"/>
<path class="lp" d="M49,209.2 77.1,203.9 98.7,206.7 144.5,207.3 177.2,207.7 231.7,205.9 283.5,204.9"/><path class="dp" d="M49,209.2h0M77.1,203.9h0M98.7,206.7h0M144.5,207.3h0M177.2,207.7h0M231.7,205.9h0M283.5,204.9h0"/>
<path class="lp" d="M43.8,203.9"/><path class="dp" d="M43.8,203.9h0"/>
<path class="lc" d="M52.2,101.1 93.7,55.3 114.6,49 140.5,48 159,51.8 176.1,55.8 190.3,57.6 207.7,58.1 224.1,48.4 248.9,49.2 272.8,52.6 307.5,55.4"/><path class="dc" d="M52.2,101.1h0M93.7,55.3h0M114.6,49h0M140.5,48h0M159,51.8h0M176.1,55.8h0M190.3,57.6h0M207.7,58.1h0M224.1,48.4h0M248.9,49.2h0M272.8,52.6h0M307.5,55.4h0"/>
<path class="lc" d="M52.7,149.9 82.9,54 107,35.2 139.5,32.7 160.2,27.5 183.4,37.7 202.1,33.6 222.4,36.3 239.2,36.1 278.1,32.4 316.5,32.5"/><path class="dc" d="M52.7,149.9h0M82.9,54h0M107,35.2h0M139.5,32.7h0M160.2,27.5h0M183.4,37.7h0M202.1,33.6h0M222.4,36.3h0M239.2,36.1h0M278.1,32.4h0M316.5,32.5h0"/>
<path class="lc" d="M42.8,213 61.5,209.4 81.4,222.2 110.3,214.2 173,211 236.8,208.5 290.5,209.9"/><path class="dc" d="M42.8,213h0M61.5,209.4h0M81.4,222.2h0M110.3,214.2h0M173,211h0M236.8,208.5h0M290.5,209.9h0"/>
<path class="lp" d="M45,204.9"/><path class="dp" d="M45,204.9h0"/>
<path class="lp" d="M75.1,205.1 96.2,208 163.5,214.8 226.6,219.5"/><path class="dp" d="M75.1,205.1h0M96.2,208h0M163.5,214.8h0M226.6,219.5h0"/>
<path class="lp" d="M42.6,206.7 59.2,207.5 82.7,209 118.4,207.1 172.2,209 234.5,207.4 262.9,199.9 288.6,211.6"/><path class="dp" d="M42.6,206.7h0M59.2,207.5h0M82.7,209h0M118.4,207.1h0M172.2,209h0M234.5,207.4h0M262.9,199.9h0M288.6,211.6h0"/>
<path class="lc" d="M53.7,72.8 98.6,42.1 136.2,49.7 150.8,44.7 175.9,51.7 211.1,46.1 231.5,60.5 261.4,57 274.5,52.4 292.1,57.6 312.4,59.5"/><path class="dc" d="M53.7,72.8h0M98.6,42.1h0M136.2,49.7h0M150.8,44.7h0M175.9,51.7h0M211.1,46.1h0M231.5,60.5h0M261.4,57h0M274.5,52.4h0M292.1,57.6h0M312.4,59.5h0"/>
<path class="lc" d="M43.5,208.7 74.4,70.2 99.1,55.9 119.6,58.7 133.4,62.7 168,55.2 183.4,58.1 198.9,69.6 214.3,62.1 228.2,66"/><path class="dc" d="M43.5,208.7h0M74.4,70.2h0M99.1,55.9h0M119.6,58.7h0M133.4,62.7h0M168,55.2h0M183.4,58.1h0M198.9,69.6h0M214.3,62.1h0M228.2,66h0"/>
<path class="lc" d="M50.4,203.4 68.6,206.2 92.9,201.2 145.1,195.9 191,204.6"/><path class="dc" d="M50.4,203.4h0M68.6,206.2h0M92.9,201.2h0M145.1,195.9h0M191,204.6h0"/>
<path class="lp" d="M51.5,121.1 72.1,71.7 87.1,43.5 103.8,37.6 142.6,24.7 167.9,23.5 188.8,25.3 206.9,26.9 245,29.3 277.9,27.2 295.2,28.7"/><path class="dp" d="M51.5,121.1h0M72.1,71.7h0M87.1,43.5h0M103.8,37.6h0M142.6,24.7h0M167.9,23.5h0M188.8,25.3h0M206.9,26.9h0M245,29.3h0M277.9,27.2h0M295.2,28.7h0"/>
<path class="lc" d="M47.3,110.3 58.7,67.6 83,44.7 105.3,30.4 136.4,23.5 165.1,28.3 193.9,27.3 227.8,29.4 243.2,32.3 277.5,32.8 299.6,38"/><path class="dc" d="M47.3,110.3h0M58.7,67.6h0M83,44.7h0M105.3,30.4h0M136.4,23.5h0M165.1,28.3h0M193.9,27.3h0M227.8,29.4h0M243.2,32.3h0M277.5,32.8h0M299.6,38h0"/>
<path class="lc" d="M50.7,150.3 73.8,81.8 98.1,76.9 126.3,73.3 164.9,77 200.2,79.5 215.3,81.6 252,83.8 280.2,89.2"/><path class="dc" d="M50.7,150.3h0M73.8,81.8h0M98.1,76.9h0M126.3,73.3h0M164.9,77h0M200.2,79.5h0M215.3,81.6h0M252,83.8h0M280.2,89.2h0"/>
<path class="lp" d="M52.6,92.9 95.4,58.9 108.8,55.4"/><path class="dp" d="M52.6,92.9h0M95.4,58.9h0M108.8,55.4h0"/>
<path class="lp" d="M49.3,142 77.6,63.8 104.9,60 131,59.4 153.1,46.6 172.1,51.8 192.5,58.5 205.5,55.8 224.6,48.9 265.1,54.1 276.7,57.3 310.3,52.8"/><path class="dp" d="M49.3,142h0M77.6,63.8h0M104.9,60h0M131,59.4h0M153.1,46.6h0M172.1,51.8h0M192.5,58.5h0M205.5,55.8h0M224.6,48.9h0M265.1,54.1h0M276.7,57.3h0M310.3,52.8h0"/>
<path class="lp" d="M44.9,201 64.7,192.7 77.3,200.4 114,203.3 179.8,201.9 222,201.6 273.2,201.6 304.8,204.7"/><path class="dp" d="M44.9,201h0M64.7,192.7h0M77.3,200.4h0M114,203.3h0M179.8,201.9h0M222,201.6h0M273.2,201.6h0M304.8,204.7h0"/>
<path class="lc" d="M54.2,100.2 98.2,37.3 130.6,27.8 163.2,26.9 196,32.4 211.2,34.2 230.3,37.4 243.7,27.3 283.5,35"/><path class="dc" d="M54.2,100.2h0M98.2,37.3h0M130.6,27.8h0M163.2,26.9h0M196,32.4h0M211.2,34.2h0M230.3,37.4h0M243.7,27.3h0M283.5,35h0"/>
<path class="lp" d="M52.8,205.7 68.5,207.8 87.1,207.3 119.6,203.2 150.1,198.3 224.3,207.1 296.7,204.2 316.8,208.1"/><path class="dp" d="M52.8,205.7h0M68.5,207.8h0M87.1,207.3h0M119.6,203.2h0M150.1,198.3h0M224.3,207.1h0M296.7,204.2h0M316.8,208.1h0"/>
<path class="lp" d="M48.2,196.8 62.3,167.9 89.4,148.4 122.3,136.6 153.6,138"/><path class="dp" d="M48.2,196.8h0M62.3,167.9h0M89.4,148.4h0M122.3,136.6h0M153.6,138h0"/>
<path class="lp" d="M53,204.5 82.3,201.6 118.8,206.1 171.7,211.1 205.9,208.2"/><path class="dp" d="M53,204.5h0M82.3,201.6h0M118.8,206.1h0M171.7,211.1h0M205.9,208.2h0"/>
<path class="lp" d="M42.5,201.7 64.2,200 86,203.5 108.7,201.2 148.4,203.4 212.8,202.8 260.3,206.5 286.7,202.6"/><path class="dp" d="M42.5,201.7h0M64.2,200h0M86,203.5h0M108.7,201.2h0M148.4,203.4h0M212.8,202.8h0M260.3,206.5h0M286.7,202.6h0"/>
<path class="lp" d="M43.8,206.8 66.4,208.9 85.9,208.9 123.3,208 198,207.8 227.5,206.6 261.4,205.8"/><path class="dp" d="M43.8,206.8h0M66.4,208.9h0M85.9,208.9h0M123.3,208h0M198,207.8h0M227.5,206.6h0M261.4,205.8h0"/>
<path class="lp" d="M43.7,208.9 194,70.7 211.2,75.4 250.5,75"/><path class="dp" d="M43.7,208.9h0M194,70.7h0M211.2,75.4h0M250.5,75h0"/>
<path class="lc" d="M43.7,206.6 58.8,207.1 94.5,206.4 122.1,207 173.6,212.1 217,208.3 232.5,212"/><path class="dc" d="M43.7,206.6h0M58.8,207.1h0M94.5,206.4h0M122.1,207h0M173.6,212.1h0M217,208.3h0M232.5,212h0"/>
<path class="lc" d="M48.3,205.3 94.8,157.9 132.3,151.3 159.8,146 178,147.1 202.2,150.8 232.1,142.2"/><path class="dc" d="M48.3,205.3h0M94.8,157.9h0M132.3,151.3h0M159.8,146h0M178,147.1h0M202.2,150.8h0M232.1,142.2h0"/>
<path class="lp" d="M44.5,160 59.5,46.3 84.1,36.7"/><path class="dp" d="M44.5,160h0M59.5,46.3h0M84.1,36.7h0"/>
<path class="lp" d="M49.4,204.5 110.8,79.5 143,76.4 174.8,78.7 204.3,71.2"/><path class="dp" d="M49.4,204.5h0M110.8,79.5h0M143,76.4h0M174.8,78.7h0M204.3,71.2h0"/>
<path class="lp" d="M43.8,162.9 107.6,131.6 129.7,131.9 150.9,128.5 170.6,127.3 198.5,130.1 238.9,128.8 266.7,126.1"/><path class="dp" d="M43.8,162.9h0M107.6,131.6h0M129.7,131.9h0M150.9,128.5h0M170.6,127.3h0M198.5,130.1h0M238.9,128.8h0M266.7,126.1h0"/>
<path class="lc" d="M42.7,189 79.8,93.7 108.6,76.5 133.7,73.9 149.3,77 168.9,76.1 210.2,73 245.6,78.5 259.2,73.6 292.1,81.8"/><path class="dc" d="M42.7,189h0M79.8,93.7h0M108.6,76.5h0M133.7,73.9h0M149.3,77h0M168.9,76.1h0M210.2,73h0M245.6,78.5h0M259.2,73.6h0M292.1,81.8h0"/>
<path class="lp" d="M47.8,157.7 79.6,31.9 92.7,27.2 128.4,32.6 143.8,29.8 156,31.4 197.8,30.2 214.3,42.6 243.4,40.3 256.7,41.5 292.4,44.1"/><path class="dp" d="M47.8,157.7h0M79.6,31.9h0M92.7,27.2h0M128.4,32.6h0M143.8,29.8h0M156,31.4h0M197.8,30.2h0M214.3,42.6h0M243.4,40.3h0M256.7,41.5h0M292.4,44.1h0"/>
<path class="lc" d="M46.6,90.1 72.8,54.4 85.8,43.6 111.6,35.6 153.2,30.9 166.8,30.8 208.6,39.1 223,34.5 243.8,29.1 284.4,42.6"/><path class="dc" d="M46.6,90.1h0M72.8,54.4h0M85.8,43.6h0M111.6,35.6h0M153.2,30.9h0M166.8,30.8h0M208.6,39.1h0M223,34.5h0M243.8,29.1h0M284.4,42.6h0"/>
<path class="lc" d="M44.6,142.5 62.6,50.6 77.9,29.7 90.8,30 116.4,20.3 134.3,27.8 168.2,24.3"/><path class="dc" d="M44.6,142.5h0M62.6,50.6h0M77.9,29.7h0M90.8,30h0M116.4,20.3h0M134.3,27.8h0M168.2,24.3h0"/>
<path class="lp" d="M51.8,208.1 69.9,209 104.3,210.5 140.1,207.8 215.7,209.5 239.3,209.5 304.5,212"/><path class="dp" d="M51.8,208.1h0M69.9,209h0M104.3,210.5h0M140.1,207.8h0M215.7,209.5h0M239.3,209.5h0M304.5,212h0"/>
<path class="lc" d="M51.9,87.4 91.2,53.8 119.9,48.7 158.6,45.6 190,47.4 220.6,47.1 257.5,54.5 276,51.3"/><path class="dc" d="M51.9,87.4h0M91.2,53.8h0M119.9,48.7h0M158.6,45.6h0M190,47.4h0M220.6,47.1h0M257.5,54.5h0M276,51.3h0"/>
<path class="lp" d="M44.5,209.3"/><path class="dp" d="M44.5,209.3h0"/>
<path class="lp" d="M43.1,205 65.8,206.5 88.1,208.8 142.7,206.5 207.3,207 272.1,207.4 297.6,207.8"/><path class="dp" d="M43.1,205h0M65.8,206.5h0M88.1,208.8h0M142.7,206.5h0M207.3,207h0M272.1,207.4h0M297.6,207.8h0"/>
<path class="lp" d="M42.7,201.4 86.9,185.2 113.6,183.2 152.5,183.2"/><path class="dp" d="M42.7,201.4h0M86.9,185.2h0M113.6,183.2h0M152.5,183.2h0"/>
<path class="lp" d="M46,62 62.4,57.5 76.4,52.1 86.6,55.7 105.6,51.6"/><path class="dp" d="M46,62h0M62.4,57.5h0M76.4,52.1h0M86.6,55.7h0M105.6,51.6h0"/>
<path class="lp" d="M48.5,182.3 82.7,48.3 99.1,41.4 134.5,43.4 171.9,43.4"/><path class="dp" d="M48.5,182.3h0M82.7,48.3h0M99.1,41.4h0M134.5,43.4h0M171.9,43.4h0"/>
<path class="lc" d="M50.8,79.2 91.9,29.1 110.9,22.3 145,27.9 175.7,23 198.9,30.7 234,30.2 272.7,32 298.7,35.3 315.4,36.1"/><path class="dc" d="M50.8,79.2h0M91.9,29.1h0M110.9,22.3h0M145,27.9h0M175.7,23h0M198.9,30.7h0M234,30.2h0M272.7,32h0M298.7,35.3h0M315.4,36.1h0"/>
<path class="lc" d="M46.2,159.1 69.7,103.2 95.9,82.3 112,84.1 149,84.3 166.4,83.6 199.3,80.9 215.6,79.8 253.9,79.4 271.4,83.5 300.7,85.7"/><path class="dc" d="M46.2,159.1h0M69.7,103.2h0M95.9,82.3h0M112,84.1h0M149,84.3h0M166.4,83.6h0M199.3,80.9h0M215.6,79.8h0M253.9,79.4h0M271.4,83.5h0M300.7,85.7h0"/>
<path class="lc" d="M45.4,208.5 75.3,207.9 106.8,206.4 163.5,206.3 234,201.5 286.4,204.4 307.2,207.9"/><path class="dc" d="M45.4,208.5h0M75.3,207.9h0M106.8,206.4h0M163.5,206.3h0M234,201.5h0M286.4,204.4h0M307.2,207.9h0"/>
<path class="lc" d="M77.6,202.1 117.5,209.2 172.5,216.9"/><path class="dc" d="M77.6,202.1h0M117.5,209.2h0M172.5,216.9h0"/>
<path class="lc" d="M50.4,209.9 86.9,207.9 108.2,208.1 165.3,204.8 220.5,208.8 246.1,207.6 307.5,207.8"/><path class="dc" d="M50.4,209.9h0M86.9,207.9h0M108.2,208.1h0M165.3,204.8h0M220.5,208.8h0M246.1,207.6h0M307.5,207.8h0"/>
<path class="lp" d="M46.9,115.3 65.1,61.5"/><path class="dp" d="M46.9,115.3h0M65.1,61.5h0"/>
<path class="lp" d="M43.2,148.5 62.9,116.5 90.4,93 122.8,92 145.2,88 172.9,88.2 212.8,87.5 238.5,90.5 263.8,92 292.4,95.6 304.7,95.1"/><path class="dp" d="M43.2,148.5h0M62.9,116.5h0M90.4,93h0M122.8,92h0M145.2,88h0M172.9,88.2h0M212.8,87.5h0M238.5,90.5h0M263.8,92h0M292.4,95.6h0M304.7,95.1h0"/>
<path class="lp" d="M44.2,207.5 79,205.1 106.9,206.8 173,212.5 239,207.8 273.1,208.3 298.2,206.8"/><path class="dp" d="M44.2,207.5h0M79,205.1h0M106.9,206.8h0M173,212.5h0M239,207.8h0M273.1,208.3h0M298.2,206.8h0"/>
<path class="lc" d="M54.1,76.8 69.3,31.8 99.7,20.5 121.4,20.8 141.6,19.6 174,23.5 188.1,22.5 199.6,19.7 239.4,22.6 261.6,24.6 297.2,23.3 315.3,23.5"/><path class="dc" d="M54.1,76.8h0M69.3,31.8h0M99.7,20.5h0M121.4,20.8h0M141.6,19.6h0M174,23.5h0M188.1,22.5h0M199.6,19.7h0M239.4,22.6h0M261.6,24.6h0M297.2,23.3h0M315.3,23.5h0"/>
<path class="lp" d="M49.7,208.4 95.8,25.7"/><path class="dp" d="M49.7,208.4h0M95.8,25.7h0"/>
<path class="lp" d="M52.5,117 96.8,39.6"/><path class="dp" d="M52.5,117h0M96.8,39.6h0"/>
<path class="lp" d="M47.4,204.5 120.8,29.1 160.4,26 200.6,28.1 213.4,27.1"/><path class="dp" d="M47.4,204.5h0M120.8,29.1h0M160.4,26h0M200.6,28.1h0M213.4,27.1h0"/>
<path class="lc" d="M44.3,141.1 68.6,42 98.4,33.2 127,30.7 159,31.1 199.3,34.5 221.9,45.1 238.9,40.8 262.7,39.9 291.3,43.5"/><path class="dc" d="M44.3,141.1h0M68.6,42h0M98.4,33.2h0M127,30.7h0M159,31.1h0M199.3,34.5h0M221.9,45.1h0M238.9,40.8h0M262.7,39.9h0M291.3,43.5h0"/>
<path class="lp" d="M51,84.4 66.3,48.3 81.8,36.2 101.6,30 121.7,27.5"/><path class="dp" d="M51,84.4h0M66.3,48.3h0M81.8,36.2h0M101.6,30h0M121.7,27.5h0"/>
<path class="lp" d="M45.1,200.4 98.1,95.3 116.2,90.2 149.1,91.4 175.9,89.7 215.5,89.8 227.1,94.3"/><path class="dp" d="M45.1,200.4h0M98.1,95.3h0M116.2,90.2h0M149.1,91.4h0M175.9,89.7h0M215.5,89.8h0M227.1,94.3h0"/>
<path class="lp" d="M76.1,202.5 97,204 150.7,205.8 235.2,207.3 297.2,210.3"/><path class="dp" d="M76.1,202.5h0M97,204h0M150.7,205.8h0M235.2,207.3h0M297.2,210.3h0"/>
<path class="lc" d="M46.7,101.3 70.6,68.1 94,54.8 121.3,67 151.8,62.5 165.2,62.8 178.5,70.7"/><path class="dc" d="M46.7,101.3h0M70.6,68.1h0M94,54.8h0M121.3,67h0M151.8,62.5h0M165.2,62.8h0M178.5,70.7h0"/>
<path class="lp" d="M53.2,120.4 66.3,82.6 99.5,57.9 117.9,42.9 148.2,44.7 167.7,42 204,52.7 221.5,51.7 245.7,52.9 263.8,62.2 293.3,59.8"/><path class="dp" d="M53.2,120.4h0M66.3,82.6h0M99.5,57.9h0M117.9,42.9h0M148.2,44.7h0M167.7,42h0M204,52.7h0M221.5,51.7h0M245.7,52.9h0M263.8,62.2h0M293.3,59.8h0"/>
<path class="lp" d="M51.8,72.1 61.4,69.4 77.8,60.7"/><path class="dp" d="M51.8,72.1h0M61.4,69.4h0M77.8,60.7h0"/>
<path class="lp" d="M49.9,204.7 81.4,99.3 105.5,69.6 118.3,70.3 156.4,63.1 186,68.8 210.9,65 226.6,71.6 252.3,75.7"/><path class="dp" d="M49.9,204.7h0M81.4,99.3h0M105.5,69.6h0M118.3,70.3h0M156.4,63.1h0M186,68.8h0M210.9,65h0M226.6,71.6h0M252.3,75.7h0"/>
<path class="lp" d="M47.3,105.3 55.3,62.3 76.1,35.3 106.1,25.5 123.7,24 154.9,21.9 188.2,25.2 204.4,23.2 241.9,23.5 260.8,32.5 291.8,30.2"/><path class="dp" d="M47.3,105.3h0M55.3,62.3h0M76.1,35.3h0M106.1,25.5h0M123.7,24h0M154.9,21.9h0M188.2,25.2h0M204.4,23.2h0M241.9,23.5h0M260.8,32.5h0M291.8,30.2h0"/>
<path class="lc" d="M69.7,209.1 113.7,210.3 155.9,217.5"/><path class="dc" d="M69.7,209.1h0M113.7,210.3h0M155.9,217.5h0"/>
<path class="lp" d="M53.4,208 83.4,195.6 108,206.8 156.4,208.9 208.7,206 250,206.2 310.1,209.9"/><path class="dp" d="M53.4,208h0M83.4,195.6h0M108,206.8h0M156.4,208.9h0M208.7,206h0M250,206.2h0M310.1,209.9h0"/>
<path class="lp" d="M47.4,114.4 55.7,88.1 83.7,54.1 110.9,41.9"/><path class="dp" d="M47.4,114.4h0M55.7,88.1h0M83.7,54.1h0M110.9,41.9h0"/>
<path class="lp" d="M50.6,77.5 75.1,53.6 104.7,41.1 124.8,39 152.3,45.5 193.5,41.4 223.2,40.7 250,48.8 285.4,42.3"/><path class="dp" d="M50.6,77.5h0M75.1,53.6h0M104.7,41.1h0M124.8,39h0M152.3,45.5h0M193.5,41.4h0M223.2,40.7h0M250,48.8h0M285.4,42.3h0"/>
<path class="lc" d="M47,209.5 66.8,109.1 78.3,78.5 108.7,55.5 124.8,52.9 144.4,51.2 182.6,47 209.5,51.9 246.7,53.7 277.6,57.2 311.6,53.9"/><path class="dc" d="M47,209.5h0M66.8,109.1h0M78.3,78.5h0M108.7,55.5h0M124.8,52.9h0M144.4,51.2h0M182.6,47h0M209.5,51.9h0M246.7,53.7h0M277.6,57.2h0M311.6,53.9h0"/>
<path class="lp" d="M49.9,163 71.7,48.8 105,43.3 120,47.6 157.9,44.8 189.2,51.6 209.6,43.5 244.7,52.3 264.9,52.2 297.7,57.6"/><path class="dp" d="M49.9,163h0M71.7,48.8h0M105,43.3h0M120,47.6h0M157.9,44.8h0M189.2,51.6h0M209.6,43.5h0M244.7,52.3h0M264.9,52.2h0M297.7,57.6h0"/>
<path class="lc" d="M42.5,194.1 57.3,124.7 91.1,58.8 116,31.7 131.9,31.9 163.4,25.4 186.3,30.3 214.5,23.9 256.3,29.8 289,31.9"/><path class="dc" d="M42.5,194.1h0M57.3,124.7h0M91.1,58.8h0M116,31.7h0M131.9,31.9h0M163.4,25.4h0M186.3,30.3h0M214.5,23.9h0M256.3,29.8h0M289,31.9h0"/>
<path class="lp" d="M49.1,144.6 72.7,76.3 103,43.1 139.6,41.2 165.5,38.7 200.2,37.5 225.6,40.9 248.4,37.5 276.4,31.6 294,40.1 315,39.7"/><path class="dp" d="M49.1,144.6h0M72.7,76.3h0M103,43.1h0M139.6,41.2h0M165.5,38.7h0M200.2,37.5h0M225.6,40.9h0M248.4,37.5h0M276.4,31.6h0M294,40.1h0M315,39.7h0"/>
<path class="lp" d="M46.1,75.7 64.9,44.8 94.3,25.7 108,26.8 133.3,30.2 160.1,25.9 198.8,29.9 235.7,27.6 263.7,32.2 276.7,28.7"/><path class="dp" d="M46.1,75.7h0M64.9,44.8h0M94.3,25.7h0M108,26.8h0M133.3,30.2h0M160.1,25.9h0M198.8,29.9h0M235.7,27.6h0M263.7,32.2h0M276.7,28.7h0"/>
<path class="lp" d="M47.7,140.7 57.8,102.7 77.6,66.7 106.6,52.8 134.8,47.6"/><path class="dp" d="M47.7,140.7h0M57.8,102.7h0M77.6,66.7h0M106.6,52.8h0M134.8,47.6h0"/>
<path class="lc" d="M44,126.5 81.9,71.7 94.6,59.1 127.5,60.6 152,68.7 175.3,65.6 201.4,58.1 223.6,65.7 261.2,65.7 293,64.4"/><path class="dc" d="M44,126.5h0M81.9,71.7h0M94.6,59.1h0M127.5,60.6h0M152,68.7h0M175.3,65.6h0M201.4,58.1h0M223.6,65.7h0M261.2,65.7h0M293,64.4h0"/>
<path class="lp" d="M44,179.2 205,23 221.3,21.5 260.8,29.7 299.4,25.3"/><path class="dp" d="M44,179.2h0M205,23h0M221.3,21.5h0M260.8,29.7h0M299.4,25.3h0"/>
<path class="lc" d="M47.8,104.2 74.4,63.5 90.3,57.3 125.9,59.6 153,53.9 178.3,58.8 211.5,54.3 245.8,58.7 283,59.9"/><path class="dc" d="M47.8,104.2h0M74.4,63.5h0M90.3,57.3h0M125.9,59.6h0M153,53.9h0M178.3,58.8h0M211.5,54.3h0M245.8,58.7h0M283,59.9h0"/>
<path class="lp" d="M45.7,118.2 57.6,77.1 88.8,73.2"/><path class="dp" d="M45.7,118.2h0M57.6,77.1h0M88.8,73.2h0"/>
<path class="lc" d="M48.9,209.1 62.4,206.4 94.9,208.4 157.9,206.9 201,207 229.1,210.1 296.6,210.6"/><path class="dc" d="M48.9,209.1h0M62.4,206.4h0M94.9,208.4h0M157.9,206.9h0M201,207h0M229.1,210.1h0M296.6,210.6h0"/>
<path class="lp" d="M53.5,51.6 70.6,63.4"/><path class="dp" d="M53.5,51.6h0M70.6,63.4h0"/>
<path class="lp" d="M85.1,203.2 120.5,204.4"/><path class="dp" d="M85.1,203.2h0M120.5,204.4h0"/>
<path class="lp" d="M80.2,203.9 108.1,208.1 196.4,211.8 252.6,214.3"/><path class="dp" d="M80.2,203.9h0M108.1,208.1h0M196.4,211.8h0M252.6,214.3h0"/>
<path class="lp" d="M43.7,183.3 152.8,45.7 171,44.6 182.5,51.6 200.5,41.9 221.7,48 246.5,48"/><path class="dp" d="M43.7,183.3h0M152.8,45.7h0M171,44.6h0M182.5,51.6h0M200.5,41.9h0M221.7,48h0M246.5,48h0"/>
<path class="lc" d="M45.1,207.3 62,205.2 90.2,207.1 128.1,202.5 179.7,206.2 225.8,208.9 287,205.6 318.1,207.7"/><path class="dc" d="M45.1,207.3h0M62,205.2h0M90.2,207.1h0M128.1,202.5h0M179.7,206.2h0M225.8,208.9h0M287,205.6h0M318.1,207.7h0"/>
<path class="lp" d="M53.9,88.2 60.2,68.3 78.8,52.1 85.8,46.5 107.5,47.9 116.7,47.9"/><path class="dp" d="M53.9,88.2h0M60.2,68.3h0M78.8,52.1h0M85.8,46.5h0M107.5,47.9h0M116.7,47.9h0"/>
<path class="lp" d="M54,91.6 71.6,23.9 94.7,20.4 111,17.9 134.8,19.3 147,17.9 179.2,20.7 208.7,24.7 228.3,18.4 240.2,23.2 280.2,21.1 295.4,21.8"/><path class="dp" d="M54,91.6h0M71.6,23.9h0M94.7,20.4h0M111,17.9h0M134.8,19.3h0M147,17.9h0M179.2,20.7h0M208.7,24.7h0M228.3,18.4h0M240.2,23.2h0M280.2,21.1h0M295.4,21.8h0"/>
<path class="lc" d="M48.6,207.4 61,205.1 90.6,208.4 121,209.2 189.8,205.8 214.3,206.3 242.6,219.7 279.3,204.8"/><path class="dc" d="M48.6,207.4h0M61,205.1h0M90.6,208.4h0M121,209.2h0M189.8,205.8h0M214.3,206.3h0M242.6,219.7h0M279.3,204.8h0"/>
<path class="lc" d="M50,158.4 77.1,76 100,51.5 124.6,54.1 165,45.4 205.3,49.9 220.5,46.3 236.6,47.6 260.4,50.7 294.5,49"/><path class="dc" d="M50,158.4h0M77.1,76h0M100,51.5h0M124.6,54.1h0M165,45.4h0M205.3,49.9h0M220.5,46.3h0M236.6,47.6h0M260.4,50.7h0M294.5,49h0"/>
<path class="lp" d="M44.1,99.8"/><path class="dp" d="M44.1,99.8h0"/>
<path class="lp" d="M53.4,149.5 91.7,81.3 131.8,63.8 166,71.4 180.9,70.9 197,68.7 211.1,75.5 232.6,71.5 267.1,68.5 283,66.6 308.1,69.3"/><path class="dp" d="M53.4,149.5h0M91.7,81.3h0M131.8,63.8h0M166,71.4h0M180.9,70.9h0M197,68.7h0M211.1,75.5h0M232.6,71.5h0M267.1,68.5h0M283,66.6h0M308.1,69.3h0"/>
<path class="lc" d="M50.9,104.5 90.5,41.8 109.1,43.1 139.4,33.3 171.6,38.7 206,37.4 220.3,39.2 253.9,42.5 292.8,49.6 316.4,45.6"/><path class="dc" d="M50.9,104.5h0M90.5,41.8h0M109.1,43.1h0M139.4,33.3h0M171.6,38.7h0M206,37.4h0M220.3,39.2h0M253.9,42.5h0M292.8,49.6h0M316.4,45.6h0"/>
<path class="lp" d="M51.6,89.6 64.3,43 93,23.1 133.2,24.9 161.9,23.1 192.9,24.3 214.2,32.2 230.9,29.8 265,24.3 297.5,27.5"/><path class="dp" d="M51.6,89.6h0M64.3,43h0M93,23.1h0M133.2,24.9h0M161.9,23.1h0M192.9,24.3h0M214.2,32.2h0M230.9,29.8h0M265,24.3h0M297.5,27.5h0"/>
<path class="lp" d="M43.7,211.2 54,160.1 82.5,85.4 94.2,74.4 123.1,60.6 145.7,47.2 176.9,47.8 206,50.7 232,46.1 267.1,45.6"/><path class="dp" d="M43.7,211.2h0M54,160.1h0M82.5,85.4h0M94.2,74.4h0M123.1,60.6h0M145.7,47.2h0M176.9,47.8h0M206,50.7h0M232,46.1h0M267.1,45.6h0"/>
<path class="lc" d="M45.6,144.1 94.8,100.6 134.4,93.5 152.8,92.4 174.3,94.3 211.2,91.7"/><path class="dc" d="M45.6,144.1h0M94.8,100.6h0M134.4,93.5h0M152.8,92.4h0M174.3,94.3h0M211.2,91.7h0"/>
<path class="lp" d="M44.9,207.8"/><path class="dp" d="M44.9,207.8h0"/>
<path class="lp" d="M50.4,175.1"/><path class="dp" d="M50.4,175.1h0"/>
<path class="lp" d="M43.2,206.9 58.2,212.8 82.7,207.5 106.4,205.7 132.9,211.4 173.9,205.5 212,208.1 250.1,208 282.8,208.8"/><path class="dp" d="M43.2,206.9h0M58.2,212.8h0M82.7,207.5h0M106.4,205.7h0M132.9,211.4h0M173.9,205.5h0M212,208.1h0M250.1,208h0M282.8,208.8h0"/>
<path class="lp" d="M45.2,78.6 71.1,77.4 85.3,81.4 108.1,75.8 127,82.1 150.9,80.6"/><path class="dp" d="M45.2,78.6h0M71.1,77.4h0M85.3,81.4h0M108.1,75.8h0M127,82.1h0M150.9,80.6h0"/>
<path class="lc" d="M54.1,119.6 86.3,26.6 115.1,28.7 147,28.1"/><path class="dc" d="M54.1,119.6h0M86.3,26.6h0M115.1,28.7h0M147,28.1h0"/>
<path class="lp" d="M49.9,207 86.7,203.6 122,201.7 171.8,206.9 229.8,203.9 257.5,205.4 282.9,204.5"/><path class="dp" d="M49.9,207h0M86.7,203.6h0M122,201.7h0M171.8,206.9h0M229.8,203.9h0M257.5,205.4h0M282.9,204.5h0"/>
<path class="lp" d="M43.8,106.7 61.6,48.1 79.3,35.8 110.7,31.4 133.2,35.3 147.7,32 178.3,40.7 206.1,37.5 219.3,40.3 241.3,40.8"/><path class="dp" d="M43.8,106.7h0M61.6,48.1h0M79.3,35.8h0M110.7,31.4h0M133.2,35.3h0M147.7,32h0M178.3,40.7h0M206.1,37.5h0M219.3,40.3h0M241.3,40.8h0"/>
<path class="lp" d="M45.3,97.6 67.2,55 82.6,45.7 102,36.8 128.1,41.5"/><path class="dp" d="M45.3,97.6h0M67.2,55h0M82.6,45.7h0M102,36.8h0M128.1,41.5h0"/>
<path class="lp" d="M50.2,162.5 146.9,26.7 182.1,28.9 198.8,24 229.7,28.9 263,33.6 290.1,36.6"/><path class="dp" d="M50.2,162.5h0M146.9,26.7h0M182.1,28.9h0M198.8,24h0M229.7,28.9h0M263,33.6h0M290.1,36.6h0"/>
<path class="lp" d="M52.8,72 64.4,44.3 71.6,46.4 78.5,44.1 100.4,41.4"/><path class="dp" d="M52.8,72h0M64.4,44.3h0M71.6,46.4h0M78.5,44.1h0M100.4,41.4h0"/>
<path class="lc" d="M43.7,207.6 70.2,207.6 101.6,206.3 167.8,207.2 218.3,207.6"/><path class="dc" d="M43.7,207.6h0M70.2,207.6h0M101.6,206.3h0M167.8,207.2h0M218.3,207.6h0"/>
<path class="lc" d="M44.5,109.6 65.6,31.3 83.9,23.7 115.7,20.7 128.3,17.6 165.9,26.2 179.7,19.8 211.8,28.5 231.9,21.4 259.3,24.5 298.9,27.9 317.5,29.2"/><path class="dc" d="M44.5,109.6h0M65.6,31.3h0M83.9,23.7h0M115.7,20.7h0M128.3,17.6h0M165.9,26.2h0M179.7,19.8h0M211.8,28.5h0M231.9,21.4h0M259.3,24.5h0M298.9,27.9h0M317.5,29.2h0"/>
<path class="lp" d="M50.9,51.2 66.9,39.1 81.4,31.4 92,41.1"/><path class="dp" d="M50.9,51.2h0M66.9,39.1h0M81.4,31.4h0M92,41.1h0"/>
<path class="lp" d="M43.7,204.6 63.5,206.6 78,207.3 96.5,204 169.4,206.1 197.3,206.4 266.1,204.2 295.4,203.2 315.7,202.9"/><path class="dp" d="M43.7,204.6h0M63.5,206.6h0M78,207.3h0M96.5,204h0M169.4,206.1h0M197.3,206.4h0M266.1,204.2h0M295.4,203.2h0M315.7,202.9h0"/>
<path class="lp" d="M43.9,201.4 71.4,205.7 99.3,205.5 173,208.5 236.8,202.4 276.3,202.9 302,203.1"/><path class="dp" d="M43.9,201.4h0M71.4,205.7h0M99.3,205.5h0M173,208.5h0M236.8,202.4h0M276.3,202.9h0M302,203.1h0"/>
<path class="lc" d="M46.5,96.4 63.5,30.5 78.9,23.2"/><path class="dc" d="M46.5,96.4h0M63.5,30.5h0M78.9,23.2h0"/>
<path class="lp" d="M47.4,207 70.5,205.1 95.3,206.5 133.7,205.9 186.7,206.5 216.5,207.9 263.9,208"/><path class="dp" d="M47.4,207h0M70.5,205.1h0M95.3,206.5h0M133.7,205.9h0M186.7,206.5h0M216.5,207.9h0M263.9,208h0"/>
<path class="lp" d="M51.7,131.7"/><path class="dp" d="M51.7,131.7h0"/>
<path class="lc" d="M50.9,209.1 208.7,40.9 221.5,43.6"/><path class="dc" d="M50.9,209.1h0M208.7,40.9h0M221.5,43.6h0"/>
<path class="lp" d="M53.2,103.9 80.6,66.2 96.6,70.4 123.8,71.3 144.1,69.9"/><path class="dp" d="M53.2,103.9h0M80.6,66.2h0M96.6,70.4h0M123.8,71.3h0M144.1,69.9h0"/>
<path class="lc" d="M54,155.8 81.2,42.7 101.7,34.3 125.5,34.7 145.1,30.9"/><path class="dc" d="M54,155.8h0M81.2,42.7h0M101.7,34.3h0M125.5,34.7h0M145.1,30.9h0"/>
<path class="lp" d="M43.1,205.4 60,203.3 89.2,206.6 133.6,208.4 205.8,214.1 277.5,207.4 291.4,208"/><path class="dp" d="M43.1,205.4h0M60,203.3h0M89.2,206.6h0M133.6,208.4h0M205.8,214.1h0M277.5,207.4h0M291.4,208h0"/>
<path class="lc" d="M45.1,198.7 79.2,63.7 92.4,49.7 110.3,37.6 129.9,36.6 166.7,38.4 181.7,39 221.8,42.9 236.9,39.4 265.5,45.4 300.5,44.9"/><path class="dc" d="M45.1,198.7h0M79.2,63.7h0M92.4,49.7h0M110.3,37.6h0M129.9,36.6h0M166.7,38.4h0M181.7,39h0M221.8,42.9h0M236.9,39.4h0M265.5,45.4h0M300.5,44.9h0"/>
<path class="lc" d="M52.8,203 65.3,206.2 82.6,206.2 104.2,206.5 176.9,206.2 251.3,207.1 278.3,207.3 293.1,207.2"/><path class="dc" d="M52.8,203h0M65.3,206.2h0M82.6,206.2h0M104.2,206.5h0M176.9,206.2h0M251.3,207.1h0M278.3,207.3h0M293.1,207.2h0"/>
<path class="lc" d="M50.7,91.9 92.8,47.1 111.8,51 130.5,53.8 154.2,55.5 175,45.8 211.3,60.6 234.1,59.7 256.9,60.1 283.6,60.5"/><path class="dc" d="M50.7,91.9h0M92.8,47.1h0M111.8,51h0M130.5,53.8h0M154.2,55.5h0M175,45.8h0M211.3,60.6h0M234.1,59.7h0M256.9,60.1h0M283.6,60.5h0"/>
<path class="lp" d="M44.1,185.1 168.9,29.4 189.7,28.1 225.7,28 255.6,29.6 271,32.6 295,32.2 310.5,27.3"/><path class="dp" d="M44.1,185.1h0M168.9,29.4h0M189.7,28.1h0M225.7,28h0M255.6,29.6h0M271,32.6h0M295,32.2h0M310.5,27.3h0"/>
<path class="lp" d="M46.3,157 71.8,98.1"/><path class="dp" d="M46.3,157h0M71.8,98.1h0"/>
<path class="lc" d="M56.1,206.4 88.6,205.9 175.8,210.7 258.7,220.1"/><path class="dc" d="M56.1,206.4h0M88.6,205.9h0M175.8,210.7h0M258.7,220.1h0"/>
<path class="lp" d="M44.8,214.7 87.2,124.3 120.6,116.9 153.9,122.1 166.2,119.9 207.6,116.6 235.5,113.1 264.5,113.1"/><path class="dp" d="M44.8,214.7h0M87.2,124.3h0M120.6,116.9h0M153.9,122.1h0M166.2,119.9h0M207.6,116.6h0M235.5,113.1h0M264.5,113.1h0"/>
<path class="lp" d="M69.1,211.5 110.3,209.3 146.2,211.1 195.8,215.5 276.9,218.1"/><path class="dp" d="M69.1,211.5h0M110.3,209.3h0M146.2,211.1h0M195.8,215.5h0M276.9,218.1h0"/>
<path class="lp" d="M45.7,95.6 61,80.5 74.3,81.1 95.8,75.1 121.6,74.6 150,75.1 175.6,82.6 193,85.4 225.2,74.8 244.7,89.4 264.9,86.3 296.5,90.1"/><path class="dp" d="M45.7,95.6h0M61,80.5h0M74.3,81.1h0M95.8,75.1h0M121.6,74.6h0M150,75.1h0M175.6,82.6h0M193,85.4h0M225.2,74.8h0M244.7,89.4h0M264.9,86.3h0M296.5,90.1h0"/>
<path class="lp" d="M43.1,204.3 80.2,200 108.8,205.2 162.7,201.9 195.9,210.3 267.1,206.8"/><path class="dp" d="M43.1,204.3h0M80.2,200h0M108.8,205.2h0M162.7,201.9h0M195.9,210.3h0M267.1,206.8h0"/>
<path class="lp" d="M51.7,208.7 86.4,209.7 129.3,211 175.8,220.3"/><path class="dp" d="M51.7,208.7h0M86.4,209.7h0M129.3,211h0M175.8,220.3h0"/>
<path class="lp" d="M54.3,141 73.2,36.5 94.9,22.3 121.8,20.7 158.1,29.3 183.2,31.7 196.1,26.5 228.8,27 247,29.3 285.2,30.6 303.1,32.8"/><path class="dp" d="M54.3,141h0M73.2,36.5h0M94.9,22.3h0M121.8,20.7h0M158.1,29.3h0M183.2,31.7h0M196.1,26.5h0M228.8,27h0M247,29.3h0M285.2,30.6h0M303.1,32.8h0"/>
<path class="lp" d="M50.9,204.6 82.3,159.1 112.6,151.2 138.8,149.4 157.8,151.5 178,144.3 192.1,144.3 214.5,147.4 236.2,142.4 261.6,139.4 293,139.8"/><path class="dp" d="M50.9,204.6h0M82.3,159.1h0M112.6,151.2h0M138.8,149.4h0M157.8,151.5h0M178,144.3h0M192.1,144.3h0M214.5,147.4h0M236.2,142.4h0M261.6,139.4h0M293,139.8h0"/>
<path class="lp" d="M44.8,197.7 68.5,200.8 88.9,209.4 145.5,205.7 202.4,203.3 273.3,208.1 289,205.7"/><path class="dp" d="M44.8,197.7h0M68.5,200.8h0M88.9,209.4h0M145.5,205.7h0M202.4,203.3h0M273.3,208.1h0M289,205.7h0"/>
<path class="lp" d="M51.8,114 83.3,78.2"/><path class="dp" d="M51.8,114h0M83.3,78.2h0"/>
<path class="lp" d="M43.1,141.2 71.7,114.5 96.8,106.6 137.9,108.9"/><path class="dp" d="M43.1,141.2h0M71.7,114.5h0M96.8,106.6h0M137.9,108.9h0"/>
<path class="lp" d="M52.6,174.1 111.7,132.4 138.6,138.1 163,137.7 201.9,136.8 236.1,142.1 247.9,141.6 274.5,139.7"/><path class="dp" d="M52.6,174.1h0M111.7,132.4h0M138.6,138.1h0M163,137.7h0M201.9,136.8h0M236.1,142.1h0M247.9,141.6h0M274.5,139.7h0"/>
<path class="lp" d="M53.3,158.4 63.3,119.4 92.7,59.6 132.8,49.8 145.8,53.6 157.9,54.8 169.7,57.5 198.6,60.3 214.2,61.6"/><path class="dp" d="M53.3,158.4h0M63.3,119.4h0M92.7,59.6h0M132.8,49.8h0M145.8,53.6h0M157.9,54.8h0M169.7,57.5h0M198.6,60.3h0M214.2,61.6h0"/>
<path class="lp" d="M47.3,210.9 80.5,80.7 98.9,68.7 127.5,69.1 148.4,74.8 170.2,77.1 210,71.1 249,67.7 265.7,74.7 285.6,77.3"/><path class="dp" d="M47.3,210.9h0M80.5,80.7h0M98.9,68.7h0M127.5,69.1h0M148.4,74.8h0M170.2,77.1h0M210,71.1h0M249,67.7h0M265.7,74.7h0M285.6,77.3h0"/>
<path class="lp" d="M51.4,60.7 61.8,66.5 75.3,72.4 97.4,65.5 110.3,70.7 122.7,70"/><path class="dp" d="M51.4,60.7h0M61.8,66.5h0M75.3,72.4h0M97.4,65.5h0M110.3,70.7h0M122.7,70h0"/>
<path class="lp" d="M50.6,110.4 83.7,64.5 111,68.4"/><path class="dp" d="M50.6,110.4h0M83.7,64.5h0M111,68.4h0"/>
<path class="lc" d="M45.1,162.3 90.7,23.2 111.6,27.4 138.5,28.7 156.4,31.5 174.1,24.3 197.8,26.1"/><path class="dc" d="M45.1,162.3h0M90.7,23.2h0M111.6,27.4h0M138.5,28.7h0M156.4,31.5h0M174.1,24.3h0M197.8,26.1h0"/>
<path class="lp" d="M50.2,206.7 61.8,207.5 81.5,213.7 104.8,207 145.5,207.7 188.6,208.7 246.1,208.7 286.8,225.3"/><path class="dp" d="M50.2,206.7h0M61.8,207.5h0M81.5,213.7h0M104.8,207h0M145.5,207.7h0M188.6,208.7h0M246.1,208.7h0M286.8,225.3h0"/>
<path class="lp" d="M48.9,144.2 66.8,128.5 79,117.1 96.7,117.1 123.4,108.6 154.1,107.6 175,113.1 204.1,109 245.3,111.5 287.1,113 306.5,115.5"/><path class="dp" d="M48.9,144.2h0M66.8,128.5h0M79,117.1h0M96.7,117.1h0M123.4,108.6h0M154.1,107.6h0M175,113.1h0M204.1,109h0M245.3,111.5h0M287.1,113h0M306.5,115.5h0"/>
<path class="lc" d="M48.2,161.1 89.3,31.6 113.1,26.1 127.3,23.7 147.6,22 166.7,22.6 179.5,21.9 201,20.3 217.5,18.3 235.4,20.7 267.4,21 283.6,25.5 295.7,22.1"/><path class="dc" d="M48.2,161.1h0M89.3,31.6h0M113.1,26.1h0M127.3,23.7h0M147.6,22h0M166.7,22.6h0M179.5,21.9h0M201,20.3h0M217.5,18.3h0M235.4,20.7h0M267.4,21h0M283.6,25.5h0M295.7,22.1h0"/>
<path class="lp" d="M53.3,203.7 83.1,202 119.3,205.8 187.8,204.6 257.6,205.7 290.2,207.5"/><path class="dp" d="M53.3,203.7h0M83.1,202h0M119.3,205.8h0M187.8,204.6h0M257.6,205.7h0M290.2,207.5h0"/>
<path class="lp" d="M48.2,75.1 58.4,59.9 79.7,46.9 102.9,32 143.3,40 162.4,32.8 198.3,39.6"/><path class="dp" d="M48.2,75.1h0M58.4,59.9h0M79.7,46.9h0M102.9,32h0M143.3,40h0M162.4,32.8h0M198.3,39.6h0"/>
<path class="lp" d="M46.2,206.1 68.3,89.3 91,67.1 126.3,55.2 141,54.1 164.5,53.7 199.7,55.6 221.4,58.1 258.2,55.2 291.5,55.8"/><path class="dp" d="M46.2,206.1h0M68.3,89.3h0M91,67.1h0M126.3,55.2h0M141,54.1h0M164.5,53.7h0M199.7,55.6h0M221.4,58.1h0M258.2,55.2h0M291.5,55.8h0"/>
<path class="lp" d="M46.2,142.8 82.5,67.3 112.8,60 131,64.3 148.7,66 167.5,62.4 183.1,60 207.4,70.3 234.1,72.9 264.6,77.7 277.7,74.7 295,74"/><path class="dp" d="M46.2,142.8h0M82.5,67.3h0M112.8,60h0M131,64.3h0M148.7,66h0M167.5,62.4h0M183.1,60h0M207.4,70.3h0M234.1,72.9h0M264.6,77.7h0M277.7,74.7h0M295,74h0"/>
<path class="lp" d="M52.7,99.5 92.4,36.5 127.8,30.4 166,30 185.8,32 208,28.8 238.6,28.1 267.7,32.4 302.8,36"/><path class="dp" d="M52.7,99.5h0M92.4,36.5h0M127.8,30.4h0M166,30h0M185.8,32h0M208,28.8h0M238.6,28.1h0M267.7,32.4h0M302.8,36h0"/>
<path class="lp" d="M43,187.1 66.8,201.5 104.3,203.6 156.9,201.2 226.8,204.1 251.3,201.5 307.8,199.1"/><path class="dp" d="M43,187.1h0M66.8,201.5h0M104.3,203.6h0M156.9,201.2h0M226.8,204.1h0M251.3,201.5h0M307.8,199.1h0"/>
<path class="lc" d="M44.1,110.7 56.3,68.6 82.7,39.2"/><path class="dc" d="M44.1,110.7h0M56.3,68.6h0M82.7,39.2h0"/>
<path class="lp" d="M42.3,204.5 57.5,205.8 93.9,203.6 119.1,210.1 193.8,200.8 228.1,196.2 261.2,207.8 304.6,206.4"/><path class="dp" d="M42.3,204.5h0M57.5,205.8h0M93.9,203.6h0M119.1,210.1h0M193.8,200.8h0M228.1,196.2h0M261.2,207.8h0M304.6,206.4h0"/>
<path class="lc" d="M47.5,107 81.1,56.8 100.6,45 127.9,43.9 162.6,48.1 201.7,41.6 217.7,40.5 257.5,42.2 269.1,42.6 288.8,50.7"/><path class="dc" d="M47.5,107h0M81.1,56.8h0M100.6,45h0M127.9,43.9h0M162.6,48.1h0M201.7,41.6h0M217.7,40.5h0M257.5,42.2h0M269.1,42.6h0M288.8,50.7h0"/>
<path class="lc" d="M46.8,95.2 70.2,24.7 92.5,20.3 109.7,23.9 127.3,26.5 164.9,29 193.9,21.5 218.2,23.9 253.2,22.6 292.4,27.4 308.6,24.6"/><path class="dc" d="M46.8,95.2h0M70.2,24.7h0M92.5,20.3h0M109.7,23.9h0M127.3,26.5h0M164.9,29h0M193.9,21.5h0M218.2,23.9h0M253.2,22.6h0M292.4,27.4h0M308.6,24.6h0"/>
<path class="lp" d="M50.4,129.8 92.3,38.3 132.4,30.1 154.4,35 168.4,36.8"/><path class="dp" d="M50.4,129.8h0M92.3,38.3h0M132.4,30.1h0M154.4,35h0M168.4,36.8h0"/>
<path class="lp" d="M46.9,86.5 65.5,25.8 93.3,20.3 114.9,21.5 144.6,29.7"/><path class="dp" d="M46.9,86.5h0M65.5,25.8h0M93.3,20.3h0M114.9,21.5h0M144.6,29.7h0"/>
<path class="lp" d="M52.9,139.9 97,44.1"/><path class="dp" d="M52.9,139.9h0M97,44.1h0"/>
<path class="lc" d="M53.1,125.7 92.8,47.1 132.8,53.3 161.8,59 176.3,52.8 210.8,60.2"/><path class="dc" d="M53.1,125.7h0M92.8,47.1h0M132.8,53.3h0M161.8,59h0M176.3,52.8h0M210.8,60.2h0"/>
<path class="lc" d="M51.9,139 74.9,70.9 103.5,48.1 127.3,40.3 165.7,44.5 205.1,40.7 226,48.1 259.8,44.6 278.9,42.7 294.6,45.2"/><path class="dc" d="M51.9,139h0M74.9,70.9h0M103.5,48.1h0M127.3,40.3h0M165.7,44.5h0M205.1,40.7h0M226,48.1h0M259.8,44.6h0M278.9,42.7h0M294.6,45.2h0"/>
<path class="lp" d="M47.6,164 127,50.8 147,61.4 162.6,65.5 183.3,65.2"/><path class="dp" d="M47.6,164h0M127,50.8h0M147,61.4h0M162.6,65.5h0M183.3,65.2h0"/>
<path class="lp" d="M74.8,206.8 91.3,209.6 164.8,215.2"/><path class="dp" d="M74.8,206.8h0M91.3,209.6h0M164.8,215.2h0"/>
<path class="lp" d="M53.5,140.2 78,56.3 104.7,37.6 122.7,31.1 155.8,27.4 175.2,31 208.3,30.3 244.2,30.8 268.5,35.1 284.7,34.8"/><path class="dp" d="M53.5,140.2h0M78,56.3h0M104.7,37.6h0M122.7,31.1h0M155.8,27.4h0M175.2,31h0M208.3,30.3h0M244.2,30.8h0M268.5,35.1h0M284.7,34.8h0"/>
<path class="lp" d="M47.8,207.1 84.4,206.8 110.2,207.3 150,186.2 208.8,195.6 249.5,207.4"/><path class="dp" d="M47.8,207.1h0M84.4,206.8h0M110.2,207.3h0M150,186.2h0M208.8,195.6h0M249.5,207.4h0"/>
<path class="lc" d="M46.8,91.1 92.2,39.9 124.4,37.1 136.9,38.7 157.3,36.4 193.2,32.7 232.7,35.9 262.3,30.3 284.3,30 306.5,31.2"/><path class="dc" d="M46.8,91.1h0M92.2,39.9h0M124.4,37.1h0M136.9,38.7h0M157.3,36.4h0M193.2,32.7h0M232.7,35.9h0M262.3,30.3h0M284.3,30h0M306.5,31.2h0"/>
<path class="lp" d="M45.5,71.5 61,63.7 78.9,60.2"/><path class="dp" d="M45.5,71.5h0M61,63.7h0M78.9,60.2h0"/>
<path class="lc" d="M47.1,53.4 58.7,54 67.6,56.6 77.3,55.9 87.1,55.4"/><path class="dc" d="M47.1,53.4h0M58.7,54h0M67.6,56.6h0M77.3,55.9h0M87.1,55.4h0"/>
<path class="lp" d="M44.8,156.7 56.5,60.4 84.7,36.3 104.2,40.2"/><path class="dp" d="M44.8,156.7h0M56.5,60.4h0M84.7,36.3h0M104.2,40.2h0"/>
<path class="lp" d="M44.4,207.6 80.3,219.3 105.1,209.1 134.9,206.2 209.4,204.5 263.2,203 286.7,202.9"/><path class="dp" d="M44.4,207.6h0M80.3,219.3h0M105.1,209.1h0M134.9,206.2h0M209.4,204.5h0M263.2,203h0M286.7,202.9h0"/>
<path class="lp" d="M44.2,208.6 54,111.8 68.3,57.5 94.2,22.5 108.7,25.3 124.8,21.9"/><path class="dp" d="M44.2,208.6h0M54,111.8h0M68.3,57.5h0M94.2,22.5h0M108.7,25.3h0M124.8,21.9h0"/>
<path class="lp" d="M52.4,208.9 86.4,202.3 104.3,209.1 173.8,198.1 234.3,204.9 294.7,204.1"/><path class="dp" d="M52.4,208.9h0M86.4,202.3h0M104.3,209.1h0M173.8,198.1h0M234.3,204.9h0M294.7,204.1h0"/>
<path class="lc" d="M44.1,124.9 84.7,86.8"/><path class="dc" d="M44.1,124.9h0M84.7,86.8h0"/>
<path class="lp" d="M44,76 73.2,45.7 98.7,40.5 128.3,39.5 141,41.7 161.1,43.7 175.3,44.4"/><path class="dp" d="M44,76h0M73.2,45.7h0M98.7,40.5h0M128.3,39.5h0M141,41.7h0M161.1,43.7h0M175.3,44.4h0"/>
<path class="lp" d="M53,155.4 71.9,95.8 84.1,80.7 107.4,60.5 137.5,52.2 156.7,57.3 169.8,63.9 195.3,60.5 211.8,57.8 229.2,64.7 252.2,57.8 292.4,65.7"/><path class="dp" d="M53,155.4h0M71.9,95.8h0M84.1,80.7h0M107.4,60.5h0M137.5,52.2h0M156.7,57.3h0M169.8,63.9h0M195.3,60.5h0M211.8,57.8h0M229.2,64.7h0M252.2,57.8h0M292.4,65.7h0"/>
<path class="lp" d="M50.1,151.7 77.4,55.3 90.4,48.8 105.2,31.5 120.4,32 141,33.9 161.8,30.2 194.7,33.3 208.4,33.9 223.2,40.5 254.6,32.3 286.5,42.3 303.5,40.2"/><path class="dp" d="M50.1,151.7h0M77.4,55.3h0M90.4,48.8h0M105.2,31.5h0M120.4,32h0M141,33.9h0M161.8,30.2h0M194.7,33.3h0M208.4,33.9h0M223.2,40.5h0M254.6,32.3h0M286.5,42.3h0M303.5,40.2h0"/>
<path class="lp" d="M46.7,88.3 87.5,74 107.1,74.2 131,77.1 152.5,79.5 164.1,80.9 182.6,84.5 204.1,84.7 218.8,85.7 253.5,81.3"/><path class="dp" d="M46.7,88.3h0M87.5,74h0M107.1,74.2h0M131,77.1h0M152.5,79.5h0M164.1,80.9h0M182.6,84.5h0M204.1,84.7h0M218.8,85.7h0M253.5,81.3h0"/>
<path class="lp" d="M46.2,184.4 139.6,55.6 166.4,63.1 204.5,65.5 236.4,55.1 250.7,58.7 266.3,60.4 307.9,63.2"/><path class="dp" d="M46.2,184.4h0M139.6,55.6h0M166.4,63.1h0M204.5,65.5h0M236.4,55.1h0M250.7,58.7h0M266.3,60.4h0M307.9,63.2h0"/>
<path class="lp" d="M48.2,150.5 84.8,73.5 108.4,66.1 125.1,71.9 166.4,64.9 206.8,65.5 246.4,64.6 283,70.8"/><path class="dp" d="M48.2,150.5h0M84.8,73.5h0M108.4,66.1h0M125.1,71.9h0M166.4,64.9h0M206.8,65.5h0M246.4,64.6h0M283,70.8h0"/>
<path class="lp" d="M53.4,115.6 72.8,72.8 91.5,67.8 109.2,65.4 139.9,63 180,64.7 194,66.4 217.2,67.5 239.3,59.6 253.2,60.3 282.7,66.6"/><path class="dp" d="M53.4,115.6h0M72.8,72.8h0M91.5,67.8h0M109.2,65.4h0M139.9,63h0M180,64.7h0M194,66.4h0M217.2,67.5h0M239.3,59.6h0M253.2,60.3h0M282.7,66.6h0"/>
<path class="lp" d="M48.7,133.6 62.4,49.4 81.4,35.6 103,25.5 143.7,23.8 170.7,27.1 202.7,31.1 236.4,25.3 248.2,25.2 266.7,34.3 294.6,31"/><path class="dp" d="M48.7,133.6h0M62.4,49.4h0M81.4,35.6h0M103,25.5h0M143.7,23.8h0M170.7,27.1h0M202.7,31.1h0M236.4,25.3h0M248.2,25.2h0M266.7,34.3h0M294.6,31h0"/>
<path class="lp" d="M53.7,211.4 87,136 106.2,115.6 138.9,102.6 160.8,101.3 195.5,96"/><path class="dp" d="M53.7,211.4h0M87,136h0M106.2,115.6h0M138.9,102.6h0M160.8,101.3h0M195.5,96h0"/>
<path class="lp" d="M47.2,206 122.4,25 141.1,22.4 155.6,19.6 176.9,25.3"/><path class="dp" d="M47.2,206h0M122.4,25h0M141.1,22.4h0M155.6,19.6h0M176.9,25.3h0"/>
<path class="lp" d="M46.5,161.7 87.9,55.3 120.9,39.8 149.9,42.8 169.6,44.3 194.2,47 221.4,46.5 248.6,47.3 267.5,48.7 287,45.6 304,41.9"/><path class="dp" d="M46.5,161.7h0M87.9,55.3h0M120.9,39.8h0M149.9,42.8h0M169.6,44.3h0M194.2,47h0M221.4,46.5h0M248.6,47.3h0M267.5,48.7h0M287,45.6h0M304,41.9h0"/>
<path class="lp" d="M46.3,165.2 110.1,42.1"/><path class="dp" d="M46.3,165.2h0M110.1,42.1h0"/>
<path class="lp" d="M51,143.5 79.6,73.9 108.5,56.8 121.9,58.7 155.5,58 167.4,61.1 208,64 233.7,62.4 257.5,68.5 278,66.9"/><path class="dp" d="M51,143.5h0M79.6,73.9h0M108.5,56.8h0M121.9,58.7h0M155.5,58h0M167.4,61.1h0M208,64h0M233.7,62.4h0M257.5,68.5h0M278,66.9h0"/>
<path class="lc" d="M52.7,206.4 73.2,205.7 92.6,206 125.4,206 165.7,206.6"/><path class="dc" d="M52.7,206.4h0M73.2,205.7h0M92.6,206h0M125.4,206h0M165.7,206.6h0"/>
</g></defs>
<g filter="url(#bl)"><use href="#sp"/>
<use href="#sp" x="346"/></g>
<path class="fp" d="M43.5,159 46.6,150 49.7,141.3 52.8,133.5 55.9,126.1 59,118.8 62.1,112.1 65.2,107.2 68.4,103.7 71.5,100.4 74.6,97.6 77.7,95.5 80.8,93.9 83.9,92.5 87,91.4 90.1,90.5 93.2,90 96.3,89.7 99.4,89.5 102.5,89.5 105.6,89.5 108.7,89.5 111.8,89.5 115,89.6 118.1,89.9 121.2,90.2 124.3,90.7 127.4,91.1 130.5,91.4 133.6,91.7 136.7,92 139.8,92.4 142.9,92.7 146,93 149.1,93.4 152.2,93.7 155.3,94.1 158.4,94.5 161.6,94.9 164.7,95.2 167.8,95.6 170.9,95.9 174,96.3 177.1,96.6 180.2,97 183.3,97.3 186.4,97.6 189.5,97.9 192.6,98.1 195.7,98.3 198.8,98.5 201.9,98.7 205.1,98.9 208.2,99.1 211.3,99.3 214.4,99.5 217.5,99.7 220.6,99.9 223.7,100.1 226.8,100.3 229.9,100.5 233,100.7 236.1,101 239.2,101.2 242.3,101.5 245.4,101.8 248.5,102.1 251.7,102.5 254.8,102.8 257.9,103.2 261,103.6 264.1,104.1 267.2,104.5 270.3,105 273.4,105.5 276.5,106 279.6,106.6 282.7,107.2 285.8,107.8 288.9,108.4 292,109 295.1,109.5 298.3,110.1 301.4,110.7 304.5,111.2 307.6,111.8 310.7,112.3 313.8,112.9 316.9,113.4 320,114 L320,130 316.9,129.3 313.8,128.6 310.7,128 307.6,127.3 304.5,126.6 301.4,125.9 298.3,125.2 295.1,124.5 292,123.8 288.9,123.1 285.8,122.4 282.7,121.7 279.6,121 276.5,120.3 273.4,119.6 270.3,119 267.2,118.4 264.1,117.8 261,117.2 257.9,116.7 254.8,116.2 251.7,115.7 248.5,115.3 245.4,114.9 242.3,114.6 239.2,114.2 236.1,113.9 233,113.6 229.9,113.3 226.8,113.1 223.7,112.8 220.6,112.6 217.5,112.3 214.4,112.1 211.3,111.9 208.2,111.6 205.1,111.4 201.9,111.1 198.8,110.9 195.7,110.6 192.6,110.3 189.5,110.1 186.4,109.7 183.3,109.4 180.2,109.1 177.1,108.7 174,108.3 170.9,108 167.8,107.6 164.7,107.2 161.6,106.8 158.4,106.4 155.3,106 152.2,105.6 149.1,105.2 146,104.8 142.9,104.5 139.8,104.1 136.7,103.8 133.6,103.4 130.5,103.1 127.4,102.7 124.3,102.3 121.2,101.8 118.1,101.4 115,101.1 111.8,101 108.7,100.9 105.6,100.9 102.5,100.9 99.4,100.9 96.3,101.3 93.2,102 90.1,102.7 87,103.8 83.9,105.2 80.8,106.8 77.7,108.8 74.6,111.3 71.5,114.6 68.4,118.2 65.2,122.1 62.1,126.5 59,132.6 55.9,139.3 52.8,146.1 49.7,153.1 46.6,159.9 43.5,167Z"/><path class="bp" d="M43.5,159 46.6,150 49.7,141.3 52.8,133.5 55.9,126.1 59,118.8 62.1,112.1 65.2,107.2 68.4,103.7 71.5,100.4 74.6,97.6 77.7,95.5 80.8,93.9 83.9,92.5 87,91.4 90.1,90.5 93.2,90 96.3,89.7 99.4,89.5 102.5,89.5 105.6,89.5 108.7,89.5 111.8,89.5 115,89.6 118.1,89.9 121.2,90.2 124.3,90.7 127.4,91.1 130.5,91.4 133.6,91.7 136.7,92 139.8,92.4 142.9,92.7 146,93 149.1,93.4 152.2,93.7 155.3,94.1 158.4,94.5 161.6,94.9 164.7,95.2 167.8,95.6 170.9,95.9 174,96.3 177.1,96.6 180.2,97 183.3,97.3 186.4,97.6 189.5,97.9 192.6,98.1 195.7,98.3 198.8,98.5 201.9,98.7 205.1,98.9 208.2,99.1 211.3,99.3 214.4,99.5 217.5,99.7 220.6,99.9 223.7,100.1 226.8,100.3 229.9,100.5 233,100.7 236.1,101 239.2,101.2 242.3,101.5 245.4,101.8 248.5,102.1 251.7,102.5 254.8,102.8 257.9,103.2 261,103.6 264.1,104.1 267.2,104.5 270.3,105 273.4,105.5 276.5,106 279.6,106.6 282.7,107.2 285.8,107.8 288.9,108.4 292,109 295.1,109.5 298.3,110.1 301.4,110.7 304.5,111.2 307.6,111.8 310.7,112.3 313.8,112.9 316.9,113.4 320,114"/><path class="bp" d="M43.5,167 46.6,159.9 49.7,153.1 52.8,146.1 55.9,139.3 59,132.6 62.1,126.5 65.2,122.1 68.4,118.2 71.5,114.6 74.6,111.3 77.7,108.8 80.8,106.8 83.9,105.2 87,103.8 90.1,102.7 93.2,102 96.3,101.3 99.4,100.9 102.5,100.9 105.6,100.9 108.7,100.9 111.8,101 115,101.1 118.1,101.4 121.2,101.8 124.3,102.3 127.4,102.7 130.5,103.1 133.6,103.4 136.7,103.8 139.8,104.1 142.9,104.5 146,104.8 149.1,105.2 152.2,105.6 155.3,106 158.4,106.4 161.6,106.8 164.7,107.2 167.8,107.6 170.9,108 174,108.3 177.1,108.7 180.2,109.1 183.3,109.4 186.4,109.7 189.5,110.1 192.6,110.3 195.7,110.6 198.8,110.9 201.9,111.1 205.1,111.4 208.2,111.6 211.3,111.9 214.4,112.1 217.5,112.3 220.6,112.6 223.7,112.8 226.8,113.1 229.9,113.3 233,113.6 236.1,113.9 239.2,114.2 242.3,114.6 245.4,114.9 248.5,115.3 251.7,115.7 254.8,116.2 257.9,116.7 261,117.2 264.1,117.8 267.2,118.4 270.3,119 273.4,119.6 276.5,120.3 279.6,121 282.7,121.7 285.8,122.4 288.9,123.1 292,123.8 295.1,124.5 298.3,125.2 301.4,125.9 304.5,126.6 307.6,127.3 310.7,128 313.8,128.6 316.9,129.3 320,130"/><path class="mp" d="M43.5,163 46.6,155 49.7,147.2 52.8,139.8 55.9,132.7 59,125.7 62.1,119.3 65.2,114.7 68.4,111 71.5,107.5 74.6,104.5 77.7,102.2 80.8,100.3 83.9,98.8 87,97.6 90.1,96.6 93.2,96 96.3,95.5 99.4,95.2 102.5,95.2 105.6,95.2 108.7,95.2 111.8,95.2 115,95.3 118.1,95.6 121.2,96 124.3,96.5 127.4,96.9 130.5,97.3 133.6,97.6 136.7,97.9 139.8,98.2 142.9,98.6 146,98.9 149.1,99.3 152.2,99.7 155.3,100.1 158.4,100.5 161.6,100.8 164.7,101.2 167.8,101.6 170.9,102 174,102.3 177.1,102.7 180.2,103 183.3,103.3 186.4,103.7 189.5,104 192.6,104.2 195.7,104.5 198.8,104.7 201.9,104.9 205.1,105.1 208.2,105.4 211.3,105.6 214.4,105.8 217.5,106 220.6,106.2 223.7,106.4 226.8,106.7 229.9,106.9 233,107.2 236.1,107.4 239.2,107.7 242.3,108 245.4,108.4 248.5,108.7 251.7,109.1 254.8,109.5 257.9,109.9 261,110.4 264.1,110.9 267.2,111.5 270.3,112 273.4,112.6 276.5,113.2 279.6,113.8 282.7,114.4 285.8,115.1 288.9,115.8 292,116.4 295.1,117 298.3,117.7 301.4,118.3 304.5,118.9 307.6,119.5 310.7,120.2 313.8,120.8 316.9,121.4 320,122"/><path class="fc" d="M43.3,155 46.4,137.3 49.5,128.4 52.6,121 55.7,113.5 58.8,106.2 62,99 65.1,91.7 68.2,85 71.3,79.7 74.4,75.5 77.5,71.9 80.6,68.9 83.7,66.4 86.8,64.2 89.9,62.4 93,60.9 96.2,59.6 99.3,58.7 102.4,58.3 105.5,58.1 108.6,57.9 111.7,57.9 114.8,58.2 117.9,58.5 121,58.9 124.1,59.4 127.2,59.9 130.4,60.5 133.5,61.2 136.6,62 139.7,62.7 142.8,63.4 145.9,64.1 149,64.7 152.1,65.3 155.2,65.9 158.3,66.5 161.4,67.1 164.6,67.7 167.7,68.2 170.8,68.8 173.9,69.4 177,69.9 180.1,70.5 183.2,71 186.3,71.6 189.4,72.1 192.5,72.6 195.6,73.1 198.7,73.6 201.9,74 205,74.4 208.1,74.8 211.2,75.2 214.3,75.6 217.4,75.9 220.5,76.3 223.6,76.6 226.7,76.9 229.8,77.2 232.9,77.5 236.1,77.7 239.2,78 242.3,78.2 245.4,78.5 248.5,78.7 251.6,78.9 254.7,79.1 257.8,79.3 260.9,79.5 264,79.7 267.1,79.8 270.3,80 273.4,80.2 276.5,80.4 279.6,80.6 282.7,80.8 285.8,81 288.9,81.3 292,81.5 295.1,81.8 298.2,82 301.3,82.3 304.5,82.6 307.6,82.9 310.7,83.3 313.8,83.6 316.9,83.9 320,84.3 L320,106.3 316.9,105.8 313.8,105.3 310.7,104.9 307.6,104.4 304.5,104 301.3,103.6 298.2,103.2 295.1,102.8 292,102.4 288.9,102 285.8,101.7 282.7,101.3 279.6,101 276.5,100.6 273.4,100.3 270.3,100 267.1,99.7 264,99.4 260.9,99.1 257.8,98.8 254.7,98.5 251.6,98.1 248.5,97.7 245.4,97.4 242.3,97 239.2,96.6 236.1,96.1 232.9,95.7 229.8,95.3 226.7,94.8 223.6,94.3 220.5,93.9 217.4,93.4 214.3,92.9 211.2,92.4 208.1,91.8 205,91.3 201.9,90.7 198.7,90.2 195.6,89.7 192.5,89.2 189.4,88.7 186.3,88.2 183.2,87.7 180.1,87.1 177,86.6 173.9,86 170.8,85.5 167.7,84.9 164.6,84.3 161.4,83.8 158.3,83.2 155.2,82.6 152.1,82 149,81.4 145.9,80.8 142.8,80.1 139.7,79.4 136.6,78.7 133.5,78 130.4,77.3 127.2,76.7 124.1,76.1 121,75.7 117.9,75.3 114.8,74.9 111.7,74.7 108.6,74.7 105.5,74.9 102.4,75.1 99.3,75.6 96.2,76.7 93,78.4 89.9,80.1 86.8,82.2 83.7,84.6 80.6,87.4 77.5,90.7 74.4,94.5 71.3,98.9 68.2,104.5 65.1,111.4 62,118.8 58.8,125.8 55.7,131.8 52.6,138.1 49.5,144.4 46.4,151.4 43.3,165Z"/><path class="bc" d="M43.3,155 46.4,137.3 49.5,128.4 52.6,121 55.7,113.5 58.8,106.2 62,99 65.1,91.7 68.2,85 71.3,79.7 74.4,75.5 77.5,71.9 80.6,68.9 83.7,66.4 86.8,64.2 89.9,62.4 93,60.9 96.2,59.6 99.3,58.7 102.4,58.3 105.5,58.1 108.6,57.9 111.7,57.9 114.8,58.2 117.9,58.5 121,58.9 124.1,59.4 127.2,59.9 130.4,60.5 133.5,61.2 136.6,62 139.7,62.7 142.8,63.4 145.9,64.1 149,64.7 152.1,65.3 155.2,65.9 158.3,66.5 161.4,67.1 164.6,67.7 167.7,68.2 170.8,68.8 173.9,69.4 177,69.9 180.1,70.5 183.2,71 186.3,71.6 189.4,72.1 192.5,72.6 195.6,73.1 198.7,73.6 201.9,74 205,74.4 208.1,74.8 211.2,75.2 214.3,75.6 217.4,75.9 220.5,76.3 223.6,76.6 226.7,76.9 229.8,77.2 232.9,77.5 236.1,77.7 239.2,78 242.3,78.2 245.4,78.5 248.5,78.7 251.6,78.9 254.7,79.1 257.8,79.3 260.9,79.5 264,79.7 267.1,79.8 270.3,80 273.4,80.2 276.5,80.4 279.6,80.6 282.7,80.8 285.8,81 288.9,81.3 292,81.5 295.1,81.8 298.2,82 301.3,82.3 304.5,82.6 307.6,82.9 310.7,83.3 313.8,83.6 316.9,83.9 320,84.3"/><path class="bc" d="M43.3,165 46.4,151.4 49.5,144.4 52.6,138.1 55.7,131.8 58.8,125.8 62,118.8 65.1,111.4 68.2,104.5 71.3,98.9 74.4,94.5 77.5,90.7 80.6,87.4 83.7,84.6 86.8,82.2 89.9,80.1 93,78.4 96.2,76.7 99.3,75.6 102.4,75.1 105.5,74.9 108.6,74.7 111.7,74.7 114.8,74.9 117.9,75.3 121,75.7 124.1,76.1 127.2,76.7 130.4,77.3 133.5,78 136.6,78.7 139.7,79.4 142.8,80.1 145.9,80.8 149,81.4 152.1,82 155.2,82.6 158.3,83.2 161.4,83.8 164.6,84.3 167.7,84.9 170.8,85.5 173.9,86 177,86.6 180.1,87.1 183.2,87.7 186.3,88.2 189.4,88.7 192.5,89.2 195.6,89.7 198.7,90.2 201.9,90.7 205,91.3 208.1,91.8 211.2,92.4 214.3,92.9 217.4,93.4 220.5,93.9 223.6,94.3 226.7,94.8 229.8,95.3 232.9,95.7 236.1,96.1 239.2,96.6 242.3,97 245.4,97.4 248.5,97.7 251.6,98.1 254.7,98.5 257.8,98.8 260.9,99.1 264,99.4 267.1,99.7 270.3,100 273.4,100.3 276.5,100.6 279.6,101 282.7,101.3 285.8,101.7 288.9,102 292,102.4 295.1,102.8 298.2,103.2 301.3,103.6 304.5,104 307.6,104.4 310.7,104.9 313.8,105.3 316.9,105.8 320,106.3"/><path class="mc" d="M43.3,160 46.4,144.4 49.5,136.4 52.6,129.5 55.7,122.7 58.8,116 62,108.9 65.1,101.5 68.2,94.7 71.3,89.3 74.4,85 77.5,81.3 80.6,78.2 83.7,75.5 86.8,73.2 89.9,71.3 93,69.6 96.2,68.1 99.3,67.1 102.4,66.7 105.5,66.5 108.6,66.3 111.7,66.3 114.8,66.6 117.9,66.9 121,67.3 124.1,67.7 127.2,68.3 130.4,68.9 133.5,69.6 136.6,70.3 139.7,71.1 142.8,71.8 145.9,72.4 149,73 152.1,73.6 155.2,74.2 158.3,74.8 161.4,75.4 164.6,76 167.7,76.6 170.8,77.1 173.9,77.7 177,78.3 180.1,78.8 183.2,79.4 186.3,79.9 189.4,80.4 192.5,80.9 195.6,81.4 198.7,81.9 201.9,82.4 205,82.9 208.1,83.3 211.2,83.8 214.3,84.2 217.4,84.7 220.5,85.1 223.6,85.5 226.7,85.8 229.8,86.2 232.9,86.6 236.1,86.9 239.2,87.3 242.3,87.6 245.4,87.9 248.5,88.2 251.6,88.5 254.7,88.8 257.8,89.1 260.9,89.3 264,89.5 267.1,89.8 270.3,90 273.4,90.2 276.5,90.5 279.6,90.8 282.7,91 285.8,91.3 288.9,91.6 292,91.9 295.1,92.3 298.2,92.6 301.3,93 304.5,93.3 307.6,93.7 310.7,94.1 313.8,94.5 316.9,94.9 320,95.3"/>
<path class="fp" d="M389.5,159 392.6,150.5 395.7,142 398.8,133.7 401.9,125.6 405.1,118.1 408.2,111.1 411.3,104.9 414.4,99.6 417.5,95.1 420.6,91.8 423.7,89.2 426.8,86.9 430,85.1 433.1,83.6 436.2,82.2 439.3,81.1 442.4,80.3 445.5,79.9 448.6,79.6 451.7,79.4 454.9,79.3 458,79.3 461.1,79.4 464.2,79.6 467.3,79.9 470.4,80.1 473.5,80.5 476.6,80.9 479.8,81.3 482.9,81.8 486,82.3 489.1,82.8 492.2,83.3 495.3,83.7 498.4,84.1 501.5,84.5 504.7,84.9 507.8,85.2 510.9,85.5 514,85.8 517.1,86.1 520.2,86.4 523.3,86.8 526.4,87.1 529.6,87.4 532.7,87.8 535.8,88.1 538.9,88.4 542,88.7 545.1,89 548.2,89.3 551.3,89.5 554.5,89.9 557.6,90.2 560.7,90.5 563.8,90.8 566.9,91.1 570,91.4 573.1,91.7 576.2,92 579.4,92.3 582.5,92.6 585.6,92.9 588.7,93.2 591.8,93.6 594.9,93.9 598,94.3 601.1,94.6 604.3,94.8 607.4,95 610.5,95.3 613.6,95.6 616.7,95.9 619.8,96.2 622.9,96.5 626,96.8 629.2,97.2 632.3,97.6 635.4,98 638.5,98.5 641.6,99 644.7,99.6 647.8,100.3 650.9,100.9 654.1,101.7 657.2,102.4 660.3,103.2 663.4,104 666.5,104.9 L666.5,129.9 663.4,128.8 660.3,127.8 657.2,126.7 654.1,125.8 650.9,124.8 647.8,123.9 644.7,123 641.6,122.2 638.5,121.4 635.4,120.7 632.3,120.1 629.2,119.4 626,118.8 622.9,118.2 619.8,117.7 616.7,117.1 613.6,116.6 610.5,116.1 607.4,115.6 604.3,115.1 601.1,114.7 598,114.3 594.9,114.1 591.8,113.8 588.7,113.6 585.6,113.3 582.5,113.1 579.4,112.9 576.2,112.7 573.1,112.5 570,112.3 566.9,112.1 563.8,111.9 560.7,111.6 557.6,111.4 554.5,111.2 551.3,111 548.2,110.8 545.1,110.6 542,110.4 538.9,110.2 535.8,110 532.7,109.8 529.6,109.5 526.4,109.3 523.3,109.1 520.2,108.8 517.1,108.5 514,108.1 510.9,107.8 507.8,107.4 504.7,107 501.5,106.6 498.4,106.1 495.3,105.7 492.2,105.2 489.1,104.6 486,104 482.9,103.5 479.8,103 476.6,102.5 473.5,102 470.4,101.6 467.3,101.3 464.2,101 461.1,100.7 458,100.6 454.9,100.5 451.7,100.5 448.6,100.7 445.5,100.9 442.4,101.2 439.3,101.9 436.2,103 433.1,104.3 430,105.7 426.8,107.4 423.7,109.5 420.6,112.1 417.5,115.3 414.4,119.7 411.3,124.9 408.2,129.9 405.1,135.7 401.9,141.9 398.8,148.8 395.7,155.8 392.6,162.4 389.5,169Z"/><path class="bp" d="M389.5,159 392.6,150.5 395.7,142 398.8,133.7 401.9,125.6 405.1,118.1 408.2,111.1 411.3,104.9 414.4,99.6 417.5,95.1 420.6,91.8 423.7,89.2 426.8,86.9 430,85.1 433.1,83.6 436.2,82.2 439.3,81.1 442.4,80.3 445.5,79.9 448.6,79.6 451.7,79.4 454.9,79.3 458,79.3 461.1,79.4 464.2,79.6 467.3,79.9 470.4,80.1 473.5,80.5 476.6,80.9 479.8,81.3 482.9,81.8 486,82.3 489.1,82.8 492.2,83.3 495.3,83.7 498.4,84.1 501.5,84.5 504.7,84.9 507.8,85.2 510.9,85.5 514,85.8 517.1,86.1 520.2,86.4 523.3,86.8 526.4,87.1 529.6,87.4 532.7,87.8 535.8,88.1 538.9,88.4 542,88.7 545.1,89 548.2,89.3 551.3,89.5 554.5,89.9 557.6,90.2 560.7,90.5 563.8,90.8 566.9,91.1 570,91.4 573.1,91.7 576.2,92 579.4,92.3 582.5,92.6 585.6,92.9 588.7,93.2 591.8,93.6 594.9,93.9 598,94.3 601.1,94.6 604.3,94.8 607.4,95 610.5,95.3 613.6,95.6 616.7,95.9 619.8,96.2 622.9,96.5 626,96.8 629.2,97.2 632.3,97.6 635.4,98 638.5,98.5 641.6,99 644.7,99.6 647.8,100.3 650.9,100.9 654.1,101.7 657.2,102.4 660.3,103.2 663.4,104 666.5,104.9"/><path class="bp" d="M389.5,169 392.6,162.4 395.7,155.8 398.8,148.8 401.9,141.9 405.1,135.7 408.2,129.9 411.3,124.9 414.4,119.7 417.5,115.3 420.6,112.1 423.7,109.5 426.8,107.4 430,105.7 433.1,104.3 436.2,103 439.3,101.9 442.4,101.2 445.5,100.9 448.6,100.7 451.7,100.5 454.9,100.5 458,100.6 461.1,100.7 464.2,101 467.3,101.3 470.4,101.6 473.5,102 476.6,102.5 479.8,103 482.9,103.5 486,104 489.1,104.6 492.2,105.2 495.3,105.7 498.4,106.1 501.5,106.6 504.7,107 507.8,107.4 510.9,107.8 514,108.1 517.1,108.5 520.2,108.8 523.3,109.1 526.4,109.3 529.6,109.5 532.7,109.8 535.8,110 538.9,110.2 542,110.4 545.1,110.6 548.2,110.8 551.3,111 554.5,111.2 557.6,111.4 560.7,111.6 563.8,111.9 566.9,112.1 570,112.3 573.1,112.5 576.2,112.7 579.4,112.9 582.5,113.1 585.6,113.3 588.7,113.6 591.8,113.8 594.9,114.1 598,114.3 601.1,114.7 604.3,115.1 607.4,115.6 610.5,116.1 613.6,116.6 616.7,117.1 619.8,117.7 622.9,118.2 626,118.8 629.2,119.4 632.3,120.1 635.4,120.7 638.5,121.4 641.6,122.2 644.7,123 647.8,123.9 650.9,124.8 654.1,125.8 657.2,126.7 660.3,127.8 663.4,128.8 666.5,129.9"/><path class="mp" d="M389.5,164 392.6,156.4 395.7,148.9 398.8,141.2 401.9,133.7 405.1,126.9 408.2,120.5 411.3,114.9 414.4,109.7 417.5,105.2 420.6,102 423.7,99.4 426.8,97.2 430,95.4 433.1,93.9 436.2,92.6 439.3,91.5 442.4,90.7 445.5,90.4 448.6,90.2 451.7,90 454.9,89.9 458,89.9 461.1,90.1 464.2,90.3 467.3,90.6 470.4,90.9 473.5,91.3 476.6,91.7 479.8,92.2 482.9,92.6 486,93.2 489.1,93.7 492.2,94.2 495.3,94.7 498.4,95.1 501.5,95.5 504.7,95.9 507.8,96.3 510.9,96.6 514,97 517.1,97.3 520.2,97.6 523.3,97.9 526.4,98.2 529.6,98.5 532.7,98.8 535.8,99 538.9,99.3 542,99.5 545.1,99.8 548.2,100 551.3,100.3 554.5,100.5 557.6,100.8 560.7,101.1 563.8,101.3 566.9,101.6 570,101.8 573.1,102.1 576.2,102.3 579.4,102.6 582.5,102.8 585.6,103.1 588.7,103.4 591.8,103.7 594.9,104 598,104.3 601.1,104.6 604.3,105 607.4,105.3 610.5,105.7 613.6,106.1 616.7,106.5 619.8,106.9 622.9,107.4 626,107.8 629.2,108.3 632.3,108.8 635.4,109.4 638.5,110 641.6,110.6 644.7,111.3 647.8,112.1 650.9,112.9 654.1,113.7 657.2,114.6 660.3,115.5 663.4,116.4 666.5,117.4"/><path class="fc" d="M389.5,156 392.6,138.1 395.7,128 398.8,119.6 401.9,111.8 405.1,103.9 408.2,95.2 411.3,86.4 414.4,79.3 417.5,74.2 420.6,69.8 423.7,66.5 426.8,64.1 430,62.2 433.1,60.6 436.2,59.3 439.3,58.1 442.4,57.2 445.5,56.4 448.6,55.8 451.7,55.4 454.9,55 458,54.8 461.1,54.7 464.2,54.8 467.3,55 470.4,55.3 473.5,55.7 476.6,56.1 479.8,56.4 482.9,56.9 486,57.4 489.1,57.9 492.2,58.5 495.3,59.2 498.4,59.8 501.5,60.3 504.7,60.9 507.8,61.4 510.9,62 514,62.5 517.1,63 520.2,63.5 523.3,64.1 526.4,64.6 529.6,65.1 532.7,65.6 535.8,66.1 538.9,66.6 542,67.1 545.1,67.6 548.2,68.1 551.3,68.5 554.5,69 557.6,69.5 560.7,70 563.8,70.4 566.9,70.9 570,71.4 573.1,71.8 576.2,72.3 579.4,72.8 582.5,73.2 585.6,73.7 588.7,74.1 591.8,74.6 594.9,75.1 598,75.5 601.1,75.9 604.3,76.2 607.4,76.4 610.5,76.7 613.6,76.9 616.7,77.2 619.8,77.4 622.9,77.7 626,77.9 629.2,78.2 632.3,78.5 635.4,78.8 638.5,79.1 641.6,79.4 644.7,79.8 647.8,80.1 650.9,80.5 654.1,80.9 657.2,81.3 660.3,81.7 663.4,82.1 666.5,82.5 L666.5,106.5 663.4,105.8 660.3,105.1 657.2,104.5 654.1,103.8 650.9,103.1 647.8,102.5 644.7,101.9 641.6,101.2 638.5,100.6 635.4,100 632.3,99.4 629.2,98.9 626,98.3 622.9,97.8 619.8,97.2 616.7,96.7 613.6,96.1 610.5,95.6 607.4,95.1 604.3,94.5 601.1,94 598,93.6 594.9,93.2 591.8,92.9 588.7,92.5 585.6,92.1 582.5,91.8 579.4,91.4 576.2,91.1 573.1,90.7 570,90.3 566.9,90 563.8,89.6 560.7,89.2 557.6,88.9 554.5,88.5 551.3,88.1 548.2,87.7 545.1,87.4 542,87 538.9,86.6 535.8,86.2 532.7,85.8 529.6,85.4 526.4,85 523.3,84.6 520.2,84.1 517.1,83.6 514,83 510.9,82.5 507.8,81.9 504.7,81.3 501.5,80.7 498.4,80.1 495.3,79.4 492.2,78.8 489.1,78.1 486,77.5 482.9,77 479.8,76.5 476.6,76.1 473.5,75.6 470.4,75.2 467.3,74.9 464.2,74.6 461.1,74.5 458,74.5 454.9,74.7 451.7,75.1 448.6,75.5 445.5,76 442.4,77 439.3,78.1 436.2,79.4 433.1,80.9 430,82.7 426.8,84.9 423.7,87.5 420.6,91 417.5,95.5 414.4,100.8 411.3,108.1 408.2,117 405.1,125.4 401.9,131.9 398.8,138.3 395.7,145.3 392.6,153.4 389.5,166Z"/><path class="bc" d="M389.5,156 392.6,138.1 395.7,128 398.8,119.6 401.9,111.8 405.1,103.9 408.2,95.2 411.3,86.4 414.4,79.3 417.5,74.2 420.6,69.8 423.7,66.5 426.8,64.1 430,62.2 433.1,60.6 436.2,59.3 439.3,58.1 442.4,57.2 445.5,56.4 448.6,55.8 451.7,55.4 454.9,55 458,54.8 461.1,54.7 464.2,54.8 467.3,55 470.4,55.3 473.5,55.7 476.6,56.1 479.8,56.4 482.9,56.9 486,57.4 489.1,57.9 492.2,58.5 495.3,59.2 498.4,59.8 501.5,60.3 504.7,60.9 507.8,61.4 510.9,62 514,62.5 517.1,63 520.2,63.5 523.3,64.1 526.4,64.6 529.6,65.1 532.7,65.6 535.8,66.1 538.9,66.6 542,67.1 545.1,67.6 548.2,68.1 551.3,68.5 554.5,69 557.6,69.5 560.7,70 563.8,70.4 566.9,70.9 570,71.4 573.1,71.8 576.2,72.3 579.4,72.8 582.5,73.2 585.6,73.7 588.7,74.1 591.8,74.6 594.9,75.1 598,75.5 601.1,75.9 604.3,76.2 607.4,76.4 610.5,76.7 613.6,76.9 616.7,77.2 619.8,77.4 622.9,77.7 626,77.9 629.2,78.2 632.3,78.5 635.4,78.8 638.5,79.1 641.6,79.4 644.7,79.8 647.8,80.1 650.9,80.5 654.1,80.9 657.2,81.3 660.3,81.7 663.4,82.1 666.5,82.5"/><path class="bc" d="M389.5,166 392.6,153.4 395.7,145.3 398.8,138.3 401.9,131.9 405.1,125.4 408.2,117 411.3,108.1 414.4,100.8 417.5,95.5 420.6,91 423.7,87.5 426.8,84.9 430,82.7 433.1,80.9 436.2,79.4 439.3,78.1 442.4,77 445.5,76 448.6,75.5 451.7,75.1 454.9,74.7 458,74.5 461.1,74.5 464.2,74.6 467.3,74.9 470.4,75.2 473.5,75.6 476.6,76.1 479.8,76.5 482.9,77 486,77.5 489.1,78.1 492.2,78.8 495.3,79.4 498.4,80.1 501.5,80.7 504.7,81.3 507.8,81.9 510.9,82.5 514,83 517.1,83.6 520.2,84.1 523.3,84.6 526.4,85 529.6,85.4 532.7,85.8 535.8,86.2 538.9,86.6 542,87 545.1,87.4 548.2,87.7 551.3,88.1 554.5,88.5 557.6,88.9 560.7,89.2 563.8,89.6 566.9,90 570,90.3 573.1,90.7 576.2,91.1 579.4,91.4 582.5,91.8 585.6,92.1 588.7,92.5 591.8,92.9 594.9,93.2 598,93.6 601.1,94 604.3,94.5 607.4,95.1 610.5,95.6 613.6,96.1 616.7,96.7 619.8,97.2 622.9,97.8 626,98.3 629.2,98.9 632.3,99.4 635.4,100 638.5,100.6 641.6,101.2 644.7,101.9 647.8,102.5 650.9,103.1 654.1,103.8 657.2,104.5 660.3,105.1 663.4,105.8 666.5,106.5"/><path class="mc" d="M389.5,161 392.6,145.8 395.7,136.7 398.8,128.9 401.9,121.8 405.1,114.7 408.2,106.1 411.3,97.3 414.4,90.1 417.5,84.8 420.6,80.4 423.7,77 426.8,74.5 430,72.4 433.1,70.7 436.2,69.3 439.3,68.1 442.4,67.1 445.5,66.2 448.6,65.7 451.7,65.2 454.9,64.9 458,64.7 461.1,64.6 464.2,64.7 467.3,64.9 470.4,65.3 473.5,65.6 476.6,66.1 479.8,66.5 482.9,66.9 486,67.4 489.1,68 492.2,68.7 495.3,69.3 498.4,69.9 501.5,70.5 504.7,71.1 507.8,71.6 510.9,72.2 514,72.8 517.1,73.3 520.2,73.8 523.3,74.3 526.4,74.8 529.6,75.3 532.7,75.7 535.8,76.2 538.9,76.6 542,77 545.1,77.5 548.2,77.9 551.3,78.3 554.5,78.7 557.6,79.2 560.7,79.6 563.8,80 566.9,80.4 570,80.9 573.1,81.3 576.2,81.7 579.4,82.1 582.5,82.5 585.6,82.9 588.7,83.3 591.8,83.7 594.9,84.1 598,84.5 601.1,84.9 604.3,85.4 607.4,85.7 610.5,86.1 613.6,86.5 616.7,86.9 619.8,87.3 622.9,87.7 626,88.1 629.2,88.5 632.3,89 635.4,89.4 638.5,89.9 641.6,90.3 644.7,90.8 647.8,91.3 650.9,91.8 654.1,92.3 657.2,92.9 660.3,93.4 663.4,93.9 666.5,94.5"/>
<line class="ax" x1="29" y1="5.5" x2="29" y2="238"/>
<line class="ax" x1="28.4" y1="238" x2="333.5" y2="238"/>
<line class="tk" x1="26.5" y1="41" x2="29" y2="41"/>
<text class="tl" transform="translate(25.2,43.3) scale(1,1.15)" text-anchor="end">2</text>
<line class="tk" x1="26.5" y1="94.3" x2="29" y2="94.3"/>
<text class="tl" transform="translate(25.2,96.6) scale(1,1.15)" text-anchor="end">1</text>
<line class="tk" x1="26.5" y1="147.6" x2="29" y2="147.6"/>
<text class="tl" transform="translate(25.2,149.9) scale(1,1.15)" text-anchor="end">0</text>
<line class="tk" x1="26.5" y1="200.9" x2="29" y2="200.9"/>
<text class="tl" transform="translate(25.2,203.2) scale(1,1.15)" text-anchor="end">-1</text>
<line class="tk" x1="42.3" y1="238" x2="42.3" y2="240.2"/>
<text class="tl" transform="translate(42.3,246.2) scale(1,1.15)" text-anchor="middle">0</text>
<line class="tk" x1="118.4" y1="238" x2="118.4" y2="240.2"/>
<text class="tl" transform="translate(118.4,246.2) scale(1,1.15)" text-anchor="middle">100</text>
<line class="tk" x1="194.5" y1="238" x2="194.5" y2="240.2"/>
<text class="tl" transform="translate(194.5,246.2) scale(1,1.15)" text-anchor="middle">200</text>
<line class="tk" x1="270.6" y1="238" x2="270.6" y2="240.2"/>
<text class="tl" transform="translate(270.6,246.2) scale(1,1.15)" text-anchor="middle">300</text>
<line class="th" x1="29" y1="147.6" x2="333.5" y2="147.6"/>
<text class="at" transform="translate(181.4,255.2) scale(1,1.22)" text-anchor="middle">Time since Infection</text>
<text class="at" transform="translate(16.8,120.2) rotate(-90) scale(1,1.3)" text-anchor="middle">Log Anti-N Levels (u/Mg)</text>
<text class="pl" x="1" y="16.6">a.</text>
<line class="ax" x1="375" y1="5.5" x2="375" y2="238"/>
<line class="ax" x1="374.4" y1="238" x2="679.5" y2="238"/>
<line class="tk" x1="372.5" y1="41" x2="375" y2="41"/>
<text class="tl" transform="translate(371.2,43.3) scale(1,1.15)" text-anchor="end">2</text>
<line class="tk" x1="372.5" y1="94.3" x2="375" y2="94.3"/>
<text class="tl" transform="translate(371.2,96.6) scale(1,1.15)" text-anchor="end">1</text>
<line class="tk" x1="372.5" y1="147.6" x2="375" y2="147.6"/>
<text class="tl" transform="translate(371.2,149.9) scale(1,1.15)" text-anchor="end">0</text>
<line class="tk" x1="372.5" y1="200.9" x2="375" y2="200.9"/>
<text class="tl" transform="translate(371.2,203.2) scale(1,1.15)" text-anchor="end">-1</text>
<line class="tk" x1="388.3" y1="238" x2="388.3" y2="240.2"/>
<text class="tl" transform="translate(388.3,246.2) scale(1,1.15)" text-anchor="middle">0</text>
<line class="tk" x1="464.4" y1="238" x2="464.4" y2="240.2"/>
<text class="tl" transform="translate(464.4,246.2) scale(1,1.15)" text-anchor="middle">100</text>
<line class="tk" x1="540.5" y1="238" x2="540.5" y2="240.2"/>
<text class="tl" transform="translate(540.5,246.2) scale(1,1.15)" text-anchor="middle">200</text>
<line class="tk" x1="616.6" y1="238" x2="616.6" y2="240.2"/>
<text class="tl" transform="translate(616.6,246.2) scale(1,1.15)" text-anchor="middle">300</text>
<line class="th" x1="375" y1="147.6" x2="679.5" y2="147.6"/>
<text class="at" transform="translate(527.4,255.2) scale(1,1.22)" text-anchor="middle">Time since Infection</text>
<text class="at" transform="translate(362.8,120.2) rotate(-90) scale(1,1.3)" text-anchor="middle">Log Anti-N Levels (u/Mg)</text>
<text class="pl" x="344" y="16.6">b.</text>
<line class="lg" x1="70.6" y1="274.8" x2="80.4" y2="274.8"/>
<text class="lt" transform="translate(86.2,277.1) scale(1,1.05)">Seropositivity Threshold</text>
<text class="ls" transform="translate(170.5,277.9) scale(1,1.1)">PCC Status</text>
<rect x="216" y="269" width="11.8" height="11.6" fill="#F1C3C5"/>
<text class="lt" transform="translate(232,277.1) scale(1,1.05)">Acute Only</text>
<rect x="267.9" y="269" width="11.6" height="11.6" fill="#A7EFE7"/>
<text class="lt" transform="translate(283.8,277.1) scale(1,1.05)">PCC</text>
<text class="ls" transform="translate(412.1,277.9) scale(1,1.1)">PCC Status</text>
<rect x="457.9" y="269" width="11.8" height="11.6" fill="#F1C3C5"/>
<text class="lt" transform="translate(474.3,277.1) scale(1,1.05)">Acute Only</text>
<rect x="509.8" y="269" width="11.6" height="11.6" fill="#A7EFE7"/>
<text class="lt" transform="translate(526.1,277.1) scale(1,1.05)">PCC</text>
<line class="lg" x1="560.1" y1="274.8" x2="570.3" y2="274.8"/>
<text class="lt" transform="translate(575.9,277.1) scale(1,1.05)">Seropositivity Threshold</text>
</svg></body></html>
